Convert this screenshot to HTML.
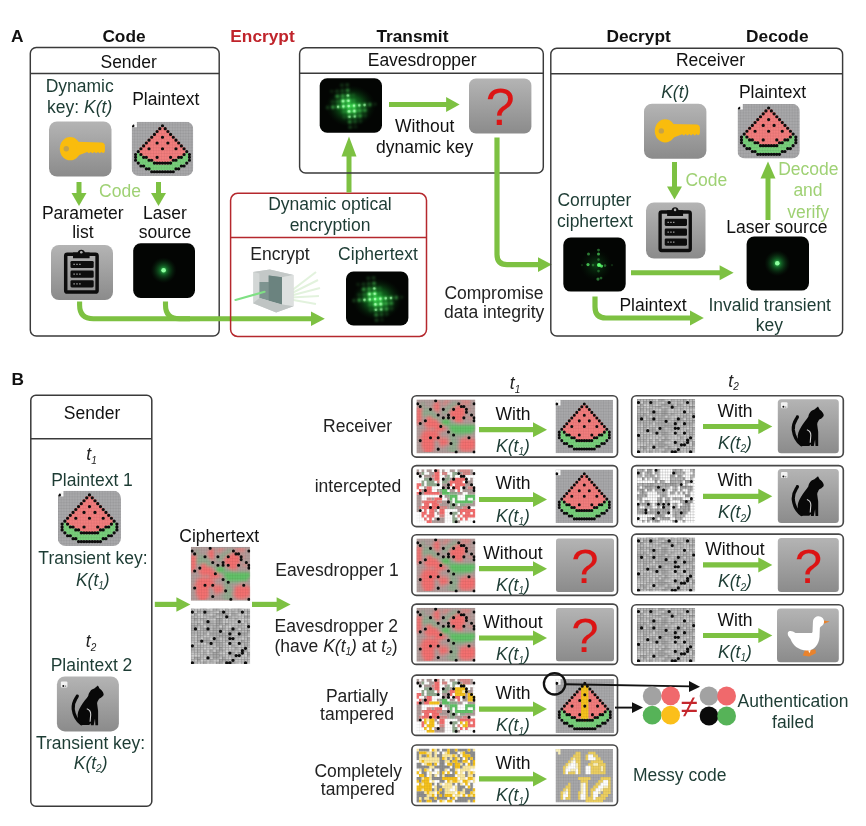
<!DOCTYPE html>
<html lang="en"><head><meta charset="utf-8"><title>Dynamic optical encryption</title>
<style>
html,body{margin:0;padding:0;background:#fff}
body{width:866px;height:826px;overflow:hidden}
svg{display:block;opacity:.999;filter:blur(.4px)}
text{font-family:"Liberation Sans",Arial,sans-serif}
</style></head><body>
<svg width="866" height="826" viewBox="0 0 866 826" font-size="17.5">
<defs>
<linearGradient id="gg" x1="0" y1="0" x2="0" y2="1"><stop offset="0" stop-color="#b4b4b4"/><stop offset="1" stop-color="#8b8b8b"/></linearGradient>
<radialGradient id="glow"><stop offset="0" stop-color="#35e05a" stop-opacity=".95"/><stop offset=".35" stop-color="#1c9a3a" stop-opacity=".55"/><stop offset="1" stop-color="#0a3a14" stop-opacity="0"/></radialGradient>
<radialGradient id="glow2"><stop offset="0" stop-color="#22c83c" stop-opacity=".85"/><stop offset=".5" stop-color="#138a26" stop-opacity=".5"/><stop offset="1" stop-color="#062a0c" stop-opacity="0"/></radialGradient>
<radialGradient id="glow3"><stop offset="0" stop-color="#168a2a" stop-opacity=".45"/><stop offset="1" stop-color="#062a0c" stop-opacity="0"/></radialGradient>
<filter id="b1" x="-5%" y="-5%" width="110%" height="110%"><feGaussianBlur stdDeviation="0.45"/></filter>
<filter id="bc" x="0" y="0" width="100%" height="100%"><feGaussianBlur stdDeviation="0.55"/></filter>
<filter id="b3" x="-50%" y="-50%" width="200%" height="200%"><feGaussianBlur stdDeviation="0.85"/></filter>
<filter id="b2" x="-50%" y="-50%" width="200%" height="200%"><feGaussianBlur stdDeviation="0.7"/></filter>
<pattern id="grid2" width="1" height="1" patternUnits="userSpaceOnUse"><path d="M0 0H1M0 0V1" stroke="#000" stroke-opacity=".3" stroke-width=".3" fill="none"/></pattern>
<pattern id="grid" width="1" height="1" patternUnits="userSpaceOnUse"><path d="M0 0H1M0 0V1" stroke="#000" stroke-opacity=".16" stroke-width=".22" fill="none"/></pattern>
<symbol id="wm" viewBox="0 0 23 19" preserveAspectRatio="none"><rect width="23" height="19" fill="#a8a8aa"/><g stroke-width="1.04" fill="none"><path stroke="#ffffff" d="M0 0.5h2M0 1.5h2"/><path stroke="#f37d7d" d="M10 2.5h3M9 3.5h5M8 4.5h7M7 5.5h9M6 6.5h11M5 7.5h13M4 8.5h15M3 9.5h17M3 10.5h17M3 11.5h17M5 12.5h13M7 13.5h9M9 14.5h5"/><path stroke="#78d07b" d="M2 11.5h1M20 11.5h1M2 12.5h3M18 12.5h3M2 13.5h5M16 13.5h5M3 14.5h6M14 14.5h6M4 15.5h15M6 16.5h11"/></g><rect width="23" height="19" fill="url(#grid)"/><path fill="#0c0c0c" d="M-0.1 1.5a0.6 0.54 0 1 0 1.2 0a0.6 0.54 0 1 0 -1.2 0M10.9 1.5a0.6 0.54 0 1 0 1.2 0a0.6 0.54 0 1 0 -1.2 0M9.9 2.5a0.6 0.54 0 1 0 1.2 0a0.6 0.54 0 1 0 -1.2 0M11.9 2.5a0.6 0.54 0 1 0 1.2 0a0.6 0.54 0 1 0 -1.2 0M8.9 3.5a0.6 0.54 0 1 0 1.2 0a0.6 0.54 0 1 0 -1.2 0M12.9 3.5a0.6 0.54 0 1 0 1.2 0a0.6 0.54 0 1 0 -1.2 0M7.9 4.5a0.6 0.54 0 1 0 1.2 0a0.6 0.54 0 1 0 -1.2 0M13.9 4.5a0.6 0.54 0 1 0 1.2 0a0.6 0.54 0 1 0 -1.2 0M6.9 5.5a0.6 0.54 0 1 0 1.2 0a0.6 0.54 0 1 0 -1.2 0M10.9 5.5a0.6 0.54 0 1 0 1.2 0a0.6 0.54 0 1 0 -1.2 0M14.9 5.5a0.6 0.54 0 1 0 1.2 0a0.6 0.54 0 1 0 -1.2 0M5.9 6.5a0.6 0.54 0 1 0 1.2 0a0.6 0.54 0 1 0 -1.2 0M15.9 6.5a0.6 0.54 0 1 0 1.2 0a0.6 0.54 0 1 0 -1.2 0M4.9 7.5a0.6 0.54 0 1 0 1.2 0a0.6 0.54 0 1 0 -1.2 0M8.9 7.5a0.6 0.54 0 1 0 1.2 0a0.6 0.54 0 1 0 -1.2 0M12.9 7.5a0.6 0.54 0 1 0 1.2 0a0.6 0.54 0 1 0 -1.2 0M16.9 7.5a0.6 0.54 0 1 0 1.2 0a0.6 0.54 0 1 0 -1.2 0M3.9 8.5a0.6 0.54 0 1 0 1.2 0a0.6 0.54 0 1 0 -1.2 0M17.9 8.5a0.6 0.54 0 1 0 1.2 0a0.6 0.54 0 1 0 -1.2 0M2.9 9.5a0.6 0.54 0 1 0 1.2 0a0.6 0.54 0 1 0 -1.2 0M5.9 9.5a0.6 0.54 0 1 0 1.2 0a0.6 0.54 0 1 0 -1.2 0M10.9 9.5a0.6 0.54 0 1 0 1.2 0a0.6 0.54 0 1 0 -1.2 0M15.9 9.5a0.6 0.54 0 1 0 1.2 0a0.6 0.54 0 1 0 -1.2 0M18.9 9.5a0.6 0.54 0 1 0 1.2 0a0.6 0.54 0 1 0 -1.2 0M1.9 10.5a0.6 0.54 0 1 0 1.2 0a0.6 0.54 0 1 0 -1.2 0M19.9 10.5a0.6 0.54 0 1 0 1.2 0a0.6 0.54 0 1 0 -1.2 0M0.9 11.5a0.6 0.54 0 1 0 1.2 0a0.6 0.54 0 1 0 -1.2 0M2.9 11.5a0.6 0.54 0 1 0 1.2 0a0.6 0.54 0 1 0 -1.2 0M18.9 11.5a0.6 0.54 0 1 0 1.2 0a0.6 0.54 0 1 0 -1.2 0M20.9 11.5a0.6 0.54 0 1 0 1.2 0a0.6 0.54 0 1 0 -1.2 0M0.9 12.5a0.6 0.54 0 1 0 1.2 0a0.6 0.54 0 1 0 -1.2 0M3.9 12.5a0.6 0.54 0 1 0 1.2 0a0.6 0.54 0 1 0 -1.2 0M4.9 12.5a0.6 0.54 0 1 0 1.2 0a0.6 0.54 0 1 0 -1.2 0M8.9 12.5a0.6 0.54 0 1 0 1.2 0a0.6 0.54 0 1 0 -1.2 0M13.9 12.5a0.6 0.54 0 1 0 1.2 0a0.6 0.54 0 1 0 -1.2 0M16.9 12.5a0.6 0.54 0 1 0 1.2 0a0.6 0.54 0 1 0 -1.2 0M17.9 12.5a0.6 0.54 0 1 0 1.2 0a0.6 0.54 0 1 0 -1.2 0M20.9 12.5a0.6 0.54 0 1 0 1.2 0a0.6 0.54 0 1 0 -1.2 0M0.9 13.5a0.6 0.54 0 1 0 1.2 0a0.6 0.54 0 1 0 -1.2 0M5.9 13.5a0.6 0.54 0 1 0 1.2 0a0.6 0.54 0 1 0 -1.2 0M6.9 13.5a0.6 0.54 0 1 0 1.2 0a0.6 0.54 0 1 0 -1.2 0M14.9 13.5a0.6 0.54 0 1 0 1.2 0a0.6 0.54 0 1 0 -1.2 0M15.9 13.5a0.6 0.54 0 1 0 1.2 0a0.6 0.54 0 1 0 -1.2 0M20.9 13.5a0.6 0.54 0 1 0 1.2 0a0.6 0.54 0 1 0 -1.2 0M1.9 14.5a0.6 0.54 0 1 0 1.2 0a0.6 0.54 0 1 0 -1.2 0M7.9 14.5a0.6 0.54 0 1 0 1.2 0a0.6 0.54 0 1 0 -1.2 0M8.9 14.5a0.6 0.54 0 1 0 1.2 0a0.6 0.54 0 1 0 -1.2 0M9.9 14.5a0.6 0.54 0 1 0 1.2 0a0.6 0.54 0 1 0 -1.2 0M10.9 14.5a0.6 0.54 0 1 0 1.2 0a0.6 0.54 0 1 0 -1.2 0M11.9 14.5a0.6 0.54 0 1 0 1.2 0a0.6 0.54 0 1 0 -1.2 0M12.9 14.5a0.6 0.54 0 1 0 1.2 0a0.6 0.54 0 1 0 -1.2 0M13.9 14.5a0.6 0.54 0 1 0 1.2 0a0.6 0.54 0 1 0 -1.2 0M19.9 14.5a0.6 0.54 0 1 0 1.2 0a0.6 0.54 0 1 0 -1.2 0M2.9 15.5a0.6 0.54 0 1 0 1.2 0a0.6 0.54 0 1 0 -1.2 0M3.9 15.5a0.6 0.54 0 1 0 1.2 0a0.6 0.54 0 1 0 -1.2 0M17.9 15.5a0.6 0.54 0 1 0 1.2 0a0.6 0.54 0 1 0 -1.2 0M18.9 15.5a0.6 0.54 0 1 0 1.2 0a0.6 0.54 0 1 0 -1.2 0M4.9 16.5a0.6 0.54 0 1 0 1.2 0a0.6 0.54 0 1 0 -1.2 0M5.9 16.5a0.6 0.54 0 1 0 1.2 0a0.6 0.54 0 1 0 -1.2 0M15.9 16.5a0.6 0.54 0 1 0 1.2 0a0.6 0.54 0 1 0 -1.2 0M16.9 16.5a0.6 0.54 0 1 0 1.2 0a0.6 0.54 0 1 0 -1.2 0M6.9 17.5a0.6 0.54 0 1 0 1.2 0a0.6 0.54 0 1 0 -1.2 0M7.9 17.5a0.6 0.54 0 1 0 1.2 0a0.6 0.54 0 1 0 -1.2 0M8.9 17.5a0.6 0.54 0 1 0 1.2 0a0.6 0.54 0 1 0 -1.2 0M9.9 17.5a0.6 0.54 0 1 0 1.2 0a0.6 0.54 0 1 0 -1.2 0M10.9 17.5a0.6 0.54 0 1 0 1.2 0a0.6 0.54 0 1 0 -1.2 0M11.9 17.5a0.6 0.54 0 1 0 1.2 0a0.6 0.54 0 1 0 -1.2 0M12.9 17.5a0.6 0.54 0 1 0 1.2 0a0.6 0.54 0 1 0 -1.2 0M13.9 17.5a0.6 0.54 0 1 0 1.2 0a0.6 0.54 0 1 0 -1.2 0M14.9 17.5a0.6 0.54 0 1 0 1.2 0a0.6 0.54 0 1 0 -1.2 0"/></symbol>
<symbol id="wmt" viewBox="0 0 23 19" preserveAspectRatio="none"><rect width="23" height="19" fill="#a8a8aa"/><g stroke-width="1.04" fill="none"><path stroke="#ffffff" d="M0 0.5h2M0 1.5h2"/><path stroke="#f6c21c" d="M10 2.5h3M10 3.5h3M10 4.5h3M10 5.5h3M10 6.5h3M10 7.5h3M10 8.5h3M10 9.5h3M10 10.5h3M10 11.5h3M10 12.5h3M10 13.5h3M11 14.5h1"/><path stroke="#f37d7d" d="M8 4.5h2M13 4.5h2M7 5.5h3M13 5.5h3M6 6.5h4M13 6.5h4M5 7.5h5M13 7.5h5M4 8.5h6M13 8.5h6M3 9.5h7M13 9.5h7M3 10.5h7M13 10.5h7M3 11.5h7M13 11.5h7M5 12.5h5M13 12.5h5M7 13.5h3M13 13.5h3"/><path stroke="#78d07b" d="M2 11.5h1M20 11.5h1M2 12.5h3M18 12.5h3M2 13.5h5M16 13.5h5M3 14.5h8M12 14.5h8M4 15.5h15M6 16.5h11"/></g><rect width="23" height="19" fill="url(#grid)"/><path fill="#0c0c0c" d="M-0.1 1.5a0.6 0.54 0 1 0 1.2 0a0.6 0.54 0 1 0 -1.2 0M10.9 1.5a0.6 0.54 0 1 0 1.2 0a0.6 0.54 0 1 0 -1.2 0M9.9 2.5a0.6 0.54 0 1 0 1.2 0a0.6 0.54 0 1 0 -1.2 0M11.9 2.5a0.6 0.54 0 1 0 1.2 0a0.6 0.54 0 1 0 -1.2 0M8.9 3.5a0.6 0.54 0 1 0 1.2 0a0.6 0.54 0 1 0 -1.2 0M12.9 3.5a0.6 0.54 0 1 0 1.2 0a0.6 0.54 0 1 0 -1.2 0M7.9 4.5a0.6 0.54 0 1 0 1.2 0a0.6 0.54 0 1 0 -1.2 0M13.9 4.5a0.6 0.54 0 1 0 1.2 0a0.6 0.54 0 1 0 -1.2 0M6.9 5.5a0.6 0.54 0 1 0 1.2 0a0.6 0.54 0 1 0 -1.2 0M10.9 5.5a0.6 0.54 0 1 0 1.2 0a0.6 0.54 0 1 0 -1.2 0M14.9 5.5a0.6 0.54 0 1 0 1.2 0a0.6 0.54 0 1 0 -1.2 0M5.9 6.5a0.6 0.54 0 1 0 1.2 0a0.6 0.54 0 1 0 -1.2 0M15.9 6.5a0.6 0.54 0 1 0 1.2 0a0.6 0.54 0 1 0 -1.2 0M4.9 7.5a0.6 0.54 0 1 0 1.2 0a0.6 0.54 0 1 0 -1.2 0M8.9 7.5a0.6 0.54 0 1 0 1.2 0a0.6 0.54 0 1 0 -1.2 0M12.9 7.5a0.6 0.54 0 1 0 1.2 0a0.6 0.54 0 1 0 -1.2 0M16.9 7.5a0.6 0.54 0 1 0 1.2 0a0.6 0.54 0 1 0 -1.2 0M3.9 8.5a0.6 0.54 0 1 0 1.2 0a0.6 0.54 0 1 0 -1.2 0M17.9 8.5a0.6 0.54 0 1 0 1.2 0a0.6 0.54 0 1 0 -1.2 0M2.9 9.5a0.6 0.54 0 1 0 1.2 0a0.6 0.54 0 1 0 -1.2 0M5.9 9.5a0.6 0.54 0 1 0 1.2 0a0.6 0.54 0 1 0 -1.2 0M10.9 9.5a0.6 0.54 0 1 0 1.2 0a0.6 0.54 0 1 0 -1.2 0M15.9 9.5a0.6 0.54 0 1 0 1.2 0a0.6 0.54 0 1 0 -1.2 0M18.9 9.5a0.6 0.54 0 1 0 1.2 0a0.6 0.54 0 1 0 -1.2 0M1.9 10.5a0.6 0.54 0 1 0 1.2 0a0.6 0.54 0 1 0 -1.2 0M19.9 10.5a0.6 0.54 0 1 0 1.2 0a0.6 0.54 0 1 0 -1.2 0M0.9 11.5a0.6 0.54 0 1 0 1.2 0a0.6 0.54 0 1 0 -1.2 0M2.9 11.5a0.6 0.54 0 1 0 1.2 0a0.6 0.54 0 1 0 -1.2 0M18.9 11.5a0.6 0.54 0 1 0 1.2 0a0.6 0.54 0 1 0 -1.2 0M20.9 11.5a0.6 0.54 0 1 0 1.2 0a0.6 0.54 0 1 0 -1.2 0M0.9 12.5a0.6 0.54 0 1 0 1.2 0a0.6 0.54 0 1 0 -1.2 0M3.9 12.5a0.6 0.54 0 1 0 1.2 0a0.6 0.54 0 1 0 -1.2 0M4.9 12.5a0.6 0.54 0 1 0 1.2 0a0.6 0.54 0 1 0 -1.2 0M8.9 12.5a0.6 0.54 0 1 0 1.2 0a0.6 0.54 0 1 0 -1.2 0M13.9 12.5a0.6 0.54 0 1 0 1.2 0a0.6 0.54 0 1 0 -1.2 0M16.9 12.5a0.6 0.54 0 1 0 1.2 0a0.6 0.54 0 1 0 -1.2 0M17.9 12.5a0.6 0.54 0 1 0 1.2 0a0.6 0.54 0 1 0 -1.2 0M20.9 12.5a0.6 0.54 0 1 0 1.2 0a0.6 0.54 0 1 0 -1.2 0M0.9 13.5a0.6 0.54 0 1 0 1.2 0a0.6 0.54 0 1 0 -1.2 0M5.9 13.5a0.6 0.54 0 1 0 1.2 0a0.6 0.54 0 1 0 -1.2 0M6.9 13.5a0.6 0.54 0 1 0 1.2 0a0.6 0.54 0 1 0 -1.2 0M14.9 13.5a0.6 0.54 0 1 0 1.2 0a0.6 0.54 0 1 0 -1.2 0M15.9 13.5a0.6 0.54 0 1 0 1.2 0a0.6 0.54 0 1 0 -1.2 0M20.9 13.5a0.6 0.54 0 1 0 1.2 0a0.6 0.54 0 1 0 -1.2 0M1.9 14.5a0.6 0.54 0 1 0 1.2 0a0.6 0.54 0 1 0 -1.2 0M7.9 14.5a0.6 0.54 0 1 0 1.2 0a0.6 0.54 0 1 0 -1.2 0M8.9 14.5a0.6 0.54 0 1 0 1.2 0a0.6 0.54 0 1 0 -1.2 0M9.9 14.5a0.6 0.54 0 1 0 1.2 0a0.6 0.54 0 1 0 -1.2 0M10.9 14.5a0.6 0.54 0 1 0 1.2 0a0.6 0.54 0 1 0 -1.2 0M11.9 14.5a0.6 0.54 0 1 0 1.2 0a0.6 0.54 0 1 0 -1.2 0M12.9 14.5a0.6 0.54 0 1 0 1.2 0a0.6 0.54 0 1 0 -1.2 0M13.9 14.5a0.6 0.54 0 1 0 1.2 0a0.6 0.54 0 1 0 -1.2 0M19.9 14.5a0.6 0.54 0 1 0 1.2 0a0.6 0.54 0 1 0 -1.2 0M2.9 15.5a0.6 0.54 0 1 0 1.2 0a0.6 0.54 0 1 0 -1.2 0M3.9 15.5a0.6 0.54 0 1 0 1.2 0a0.6 0.54 0 1 0 -1.2 0M17.9 15.5a0.6 0.54 0 1 0 1.2 0a0.6 0.54 0 1 0 -1.2 0M18.9 15.5a0.6 0.54 0 1 0 1.2 0a0.6 0.54 0 1 0 -1.2 0M4.9 16.5a0.6 0.54 0 1 0 1.2 0a0.6 0.54 0 1 0 -1.2 0M5.9 16.5a0.6 0.54 0 1 0 1.2 0a0.6 0.54 0 1 0 -1.2 0M15.9 16.5a0.6 0.54 0 1 0 1.2 0a0.6 0.54 0 1 0 -1.2 0M16.9 16.5a0.6 0.54 0 1 0 1.2 0a0.6 0.54 0 1 0 -1.2 0M6.9 17.5a0.6 0.54 0 1 0 1.2 0a0.6 0.54 0 1 0 -1.2 0M7.9 17.5a0.6 0.54 0 1 0 1.2 0a0.6 0.54 0 1 0 -1.2 0M8.9 17.5a0.6 0.54 0 1 0 1.2 0a0.6 0.54 0 1 0 -1.2 0M9.9 17.5a0.6 0.54 0 1 0 1.2 0a0.6 0.54 0 1 0 -1.2 0M10.9 17.5a0.6 0.54 0 1 0 1.2 0a0.6 0.54 0 1 0 -1.2 0M11.9 17.5a0.6 0.54 0 1 0 1.2 0a0.6 0.54 0 1 0 -1.2 0M12.9 17.5a0.6 0.54 0 1 0 1.2 0a0.6 0.54 0 1 0 -1.2 0M13.9 17.5a0.6 0.54 0 1 0 1.2 0a0.6 0.54 0 1 0 -1.2 0M14.9 17.5a0.6 0.54 0 1 0 1.2 0a0.6 0.54 0 1 0 -1.2 0"/></symbol>
<symbol id="ci" viewBox="0 0 23 19" preserveAspectRatio="none"><rect width="23" height="19" fill="#b09d9b"/><g stroke-width="1.04" fill="none" filter="url(#bc)"><path stroke="#d98a88" d="M8 0.5h1M11 0.5h2M17 0.5h4M10 1.5h2M18 1.5h3M6 2.5h1M15 2.5h1M20 3.5h1M8 4.5h1M20 6.5h2M3 9.5h1M10 9.5h1M4 10.5h2M11 10.5h1M2 11.5h1M8 11.5h2M1 13.5h1M9 13.5h3M18 13.5h2M21 13.5h1M8 14.5h1M12 14.5h1M12 15.5h1M9 16.5h2M16 16.5h1M2 17.5h1M22 17.5h1M18 18.5h3"/><path stroke="#93ab90" d="M2 1.5h1M14 1.5h2M2 2.5h1M12 2.5h3M3 3.5h3M11 3.5h2M2 4.5h5M10 4.5h2M2 5.5h6M6 6.5h3M9 7.5h1M13 8.5h3M12 9.5h1M13 11.5h1M13 12.5h6M13 13.5h2M13 14.5h3M13 15.5h3M13 16.5h3M12 17.5h4M13 18.5h3"/><path stroke="#f47070" d="M7 1.5h2M7 2.5h2M16 2.5h2M0 3.5h2M7 3.5h2M14 3.5h5M0 4.5h2M13 4.5h6M0 5.5h2M13 5.5h6M0 6.5h2M4 6.5h2M14 6.5h4M0 7.5h2M4 7.5h4M15 7.5h3M0 8.5h1M3 8.5h6M4 9.5h6M7 10.5h4M3 11.5h5M2 12.5h7M2 13.5h7M2 14.5h5M9 14.5h3M17 14.5h6M2 15.5h5M9 15.5h3M17 15.5h6M2 16.5h5M17 16.5h6M3 17.5h4M17 17.5h5M3 18.5h3"/><path stroke="#62c268" d="M10 7.5h3M10 8.5h3M13 9.5h10M13 10.5h10M14 11.5h8"/></g><rect width="23" height="19" fill="url(#grid)"/><path fill="#0c0c0c" d="M6.9 0.5a0.6 0.54 0 1 0 1.2 0a0.6 0.54 0 1 0 -1.2 0M-0.1 1.5a0.6 0.54 0 1 0 1.2 0a0.6 0.54 0 1 0 -1.2 0M15.9 1.5a0.6 0.54 0 1 0 1.2 0a0.6 0.54 0 1 0 -1.2 0M21.9 1.5a0.6 0.54 0 1 0 1.2 0a0.6 0.54 0 1 0 -1.2 0M0.9 2.5a0.6 0.54 0 1 0 1.2 0a0.6 0.54 0 1 0 -1.2 0M16.9 2.5a0.6 0.54 0 1 0 1.2 0a0.6 0.54 0 1 0 -1.2 0M17.9 2.5a0.6 0.54 0 1 0 1.2 0a0.6 0.54 0 1 0 -1.2 0M4.9 3.5a0.6 0.54 0 1 0 1.2 0a0.6 0.54 0 1 0 -1.2 0M9.9 3.5a0.6 0.54 0 1 0 1.2 0a0.6 0.54 0 1 0 -1.2 0M13.9 3.5a0.6 0.54 0 1 0 1.2 0a0.6 0.54 0 1 0 -1.2 0M18.9 3.5a0.6 0.54 0 1 0 1.2 0a0.6 0.54 0 1 0 -1.2 0M18.9 4.5a0.6 0.54 0 1 0 1.2 0a0.6 0.54 0 1 0 -1.2 0M7.9 5.5a0.6 0.54 0 1 0 1.2 0a0.6 0.54 0 1 0 -1.2 0M11.9 5.5a0.6 0.54 0 1 0 1.2 0a0.6 0.54 0 1 0 -1.2 0M20.9 5.5a0.6 0.54 0 1 0 1.2 0a0.6 0.54 0 1 0 -1.2 0M9.9 6.5a0.6 0.54 0 1 0 1.2 0a0.6 0.54 0 1 0 -1.2 0M11.9 6.5a0.6 0.54 0 1 0 1.2 0a0.6 0.54 0 1 0 -1.2 0M13.9 6.5a0.6 0.54 0 1 0 1.2 0a0.6 0.54 0 1 0 -1.2 0M17.9 6.5a0.6 0.54 0 1 0 1.2 0a0.6 0.54 0 1 0 -1.2 0M21.9 6.5a0.6 0.54 0 1 0 1.2 0a0.6 0.54 0 1 0 -1.2 0M2.9 7.5a0.6 0.54 0 1 0 1.2 0a0.6 0.54 0 1 0 -1.2 0M21.9 7.5a0.6 0.54 0 1 0 1.2 0a0.6 0.54 0 1 0 -1.2 0M0.9 8.5a0.6 0.54 0 1 0 1.2 0a0.6 0.54 0 1 0 -1.2 0M8.9 9.5a0.6 0.54 0 1 0 1.2 0a0.6 0.54 0 1 0 -1.2 0M11.9 11.5a0.6 0.54 0 1 0 1.2 0a0.6 0.54 0 1 0 -1.2 0M13.9 12.5a0.6 0.54 0 1 0 1.2 0a0.6 0.54 0 1 0 -1.2 0M4.9 13.5a0.6 0.54 0 1 0 1.2 0a0.6 0.54 0 1 0 -1.2 0M7.9 13.5a0.6 0.54 0 1 0 1.2 0a0.6 0.54 0 1 0 -1.2 0M19.9 13.5a0.6 0.54 0 1 0 1.2 0a0.6 0.54 0 1 0 -1.2 0M0.9 14.5a0.6 0.54 0 1 0 1.2 0a0.6 0.54 0 1 0 -1.2 0M12.9 15.5a0.6 0.54 0 1 0 1.2 0a0.6 0.54 0 1 0 -1.2 0M7.9 17.5a0.6 0.54 0 1 0 1.2 0a0.6 0.54 0 1 0 -1.2 0M14.9 18.5a0.6 0.54 0 1 0 1.2 0a0.6 0.54 0 1 0 -1.2 0M21.9 18.5a0.6 0.54 0 1 0 1.2 0a0.6 0.54 0 1 0 -1.2 0"/></symbol>
<symbol id="ci2" viewBox="0 0 23 19" preserveAspectRatio="none"><rect width="23" height="19" fill="#ffffff"/><g stroke-width="1.04" fill="none"><path stroke="#b09d9b" d="M0 0.5h1M2 0.5h1M4 0.5h2M10 0.5h1M13 0.5h2M16 0.5h1M21 0.5h1M0 1.5h2M5 1.5h2M17 1.5h1M21 1.5h1M3 2.5h3M11 2.5h1M6 3.5h1M13 3.5h1M21 3.5h1M12 4.5h1M19 4.5h3M10 5.5h3M19 5.5h3M3 6.5h1M10 6.5h3M18 6.5h2M22 6.5h1M2 7.5h1M8 7.5h1M13 7.5h2M18 7.5h5M1 8.5h2M9 8.5h1M16 8.5h2M20 8.5h3M0 9.5h2M11 9.5h1M0 10.5h2M6 10.5h1M12 10.5h1M0 11.5h2M10 11.5h3M22 11.5h1M0 12.5h2M9 12.5h4M19 12.5h4M0 13.5h1M12 13.5h1M15 13.5h3M20 13.5h1M0 14.5h1M7 14.5h1M16 14.5h1M8 15.5h1M7 17.5h4M6 18.5h5M16 18.5h1"/><path stroke="#f47070" d="M7 0.5h1M7 1.5h2M7 2.5h2M17 2.5h1M7 3.5h2M14 3.5h5M13 4.5h5M0 5.5h2M13 5.5h1M15 5.5h4M0 6.5h1M4 6.5h2M14 6.5h3M1 7.5h1M3 7.5h3M16 7.5h1M0 8.5h1M3 8.5h6M9 9.5h1M7 10.5h3M3 11.5h5M3 12.5h2M6 12.5h3M2 13.5h7M3 14.5h1M5 14.5h2M9 14.5h2M17 14.5h6M2 15.5h2M5 15.5h2M9 15.5h2M17 15.5h1M19 15.5h2M22 15.5h1M2 16.5h1M4 16.5h3M18 16.5h5M3 17.5h1M5 17.5h1M17 17.5h1M19 17.5h1M4 18.5h2"/><path stroke="#d98a88" d="M8 0.5h1M17 0.5h4M10 1.5h2M18 1.5h3M6 2.5h1M18 2.5h1M8 4.5h1M20 6.5h2M4 10.5h2M2 11.5h1M8 11.5h2M1 13.5h1M9 13.5h3M18 13.5h2M9 16.5h2M16 16.5h1"/><path stroke="#93ab90" d="M2 1.5h1M14 1.5h2M12 2.5h1M14 2.5h1M3 3.5h3M11 3.5h2M2 4.5h1M4 4.5h3M10 4.5h2M2 5.5h1M4 5.5h4M9 7.5h1M13 8.5h3M12 9.5h1M13 11.5h1M13 12.5h3M17 12.5h2M13 13.5h2M14 15.5h2M14 16.5h1M14 17.5h2M14 18.5h2"/><path stroke="#62c268" d="M10 7.5h2M10 8.5h3M13 9.5h3M19 9.5h4M13 10.5h1M15 10.5h1M19 10.5h1M22 10.5h1M15 11.5h7"/></g><rect width="23" height="19" fill="url(#grid)"/><path fill="#0c0c0c" d="M6.9 0.5a0.6 0.54 0 1 0 1.2 0a0.6 0.54 0 1 0 -1.2 0M-0.1 1.5a0.6 0.54 0 1 0 1.2 0a0.6 0.54 0 1 0 -1.2 0M15.9 1.5a0.6 0.54 0 1 0 1.2 0a0.6 0.54 0 1 0 -1.2 0M21.9 1.5a0.6 0.54 0 1 0 1.2 0a0.6 0.54 0 1 0 -1.2 0M0.9 2.5a0.6 0.54 0 1 0 1.2 0a0.6 0.54 0 1 0 -1.2 0M16.9 2.5a0.6 0.54 0 1 0 1.2 0a0.6 0.54 0 1 0 -1.2 0M17.9 2.5a0.6 0.54 0 1 0 1.2 0a0.6 0.54 0 1 0 -1.2 0M4.9 3.5a0.6 0.54 0 1 0 1.2 0a0.6 0.54 0 1 0 -1.2 0M9.9 3.5a0.6 0.54 0 1 0 1.2 0a0.6 0.54 0 1 0 -1.2 0M13.9 3.5a0.6 0.54 0 1 0 1.2 0a0.6 0.54 0 1 0 -1.2 0M18.9 3.5a0.6 0.54 0 1 0 1.2 0a0.6 0.54 0 1 0 -1.2 0M18.9 4.5a0.6 0.54 0 1 0 1.2 0a0.6 0.54 0 1 0 -1.2 0M7.9 5.5a0.6 0.54 0 1 0 1.2 0a0.6 0.54 0 1 0 -1.2 0M11.9 5.5a0.6 0.54 0 1 0 1.2 0a0.6 0.54 0 1 0 -1.2 0M20.9 5.5a0.6 0.54 0 1 0 1.2 0a0.6 0.54 0 1 0 -1.2 0M9.9 6.5a0.6 0.54 0 1 0 1.2 0a0.6 0.54 0 1 0 -1.2 0M11.9 6.5a0.6 0.54 0 1 0 1.2 0a0.6 0.54 0 1 0 -1.2 0M13.9 6.5a0.6 0.54 0 1 0 1.2 0a0.6 0.54 0 1 0 -1.2 0M17.9 6.5a0.6 0.54 0 1 0 1.2 0a0.6 0.54 0 1 0 -1.2 0M21.9 6.5a0.6 0.54 0 1 0 1.2 0a0.6 0.54 0 1 0 -1.2 0M2.9 7.5a0.6 0.54 0 1 0 1.2 0a0.6 0.54 0 1 0 -1.2 0M21.9 7.5a0.6 0.54 0 1 0 1.2 0a0.6 0.54 0 1 0 -1.2 0M0.9 8.5a0.6 0.54 0 1 0 1.2 0a0.6 0.54 0 1 0 -1.2 0M8.9 9.5a0.6 0.54 0 1 0 1.2 0a0.6 0.54 0 1 0 -1.2 0M11.9 11.5a0.6 0.54 0 1 0 1.2 0a0.6 0.54 0 1 0 -1.2 0M13.9 12.5a0.6 0.54 0 1 0 1.2 0a0.6 0.54 0 1 0 -1.2 0M4.9 13.5a0.6 0.54 0 1 0 1.2 0a0.6 0.54 0 1 0 -1.2 0M7.9 13.5a0.6 0.54 0 1 0 1.2 0a0.6 0.54 0 1 0 -1.2 0M19.9 13.5a0.6 0.54 0 1 0 1.2 0a0.6 0.54 0 1 0 -1.2 0M0.9 14.5a0.6 0.54 0 1 0 1.2 0a0.6 0.54 0 1 0 -1.2 0M12.9 15.5a0.6 0.54 0 1 0 1.2 0a0.6 0.54 0 1 0 -1.2 0M7.9 17.5a0.6 0.54 0 1 0 1.2 0a0.6 0.54 0 1 0 -1.2 0M14.9 18.5a0.6 0.54 0 1 0 1.2 0a0.6 0.54 0 1 0 -1.2 0M21.9 18.5a0.6 0.54 0 1 0 1.2 0a0.6 0.54 0 1 0 -1.2 0"/></symbol>
<symbol id="ci3" viewBox="0 0 23 19" preserveAspectRatio="none"><rect width="23" height="19" fill="#ffffff"/><g stroke-width="1.04" fill="none"><path stroke="#b09d9b" d="M0 0.5h1M2 0.5h1M4 0.5h2M10 0.5h1M13 0.5h2M16 0.5h1M21 0.5h1M0 1.5h2M5 1.5h2M17 1.5h1M21 1.5h1M3 2.5h3M11 2.5h1M6 3.5h1M13 3.5h1M21 3.5h1M12 4.5h1M20 4.5h2M10 5.5h3M19 5.5h1M3 6.5h1M10 6.5h3M18 6.5h2M2 7.5h1M8 7.5h1M13 7.5h2M18 7.5h2M22 7.5h1M1 8.5h2M9 8.5h1M16 8.5h2M20 8.5h3M0 9.5h2M11 9.5h1M0 10.5h2M6 10.5h1M12 10.5h1M0 11.5h2M10 11.5h3M22 11.5h1M0 12.5h2M9 12.5h4M19 12.5h4M0 13.5h1M12 13.5h1M15 13.5h3M20 13.5h1M0 14.5h1M7 14.5h1M16 14.5h1M8 15.5h1M7 17.5h4M7 18.5h4M16 18.5h1"/><path stroke="#f47070" d="M7 0.5h1M7 1.5h2M7 2.5h2M7 3.5h2M13 4.5h2M0 5.5h2M13 5.5h1M0 6.5h1M4 6.5h2M15 6.5h2M1 7.5h1M3 7.5h3M16 7.5h1M0 8.5h1M3 8.5h2M7 10.5h3M3 11.5h5M3 12.5h2M6 12.5h3M2 13.5h7M9 14.5h2M17 14.5h6M2 15.5h1M9 15.5h2M20 15.5h1M22 15.5h1M2 16.5h1M20 16.5h3M17 17.5h1M19 17.5h1"/><path stroke="#d98a88" d="M8 0.5h1M17 0.5h4M10 1.5h2M18 1.5h3M6 2.5h1M8 4.5h1M4 10.5h2M2 11.5h1M8 11.5h2M1 13.5h1M9 13.5h3M18 13.5h2M9 16.5h2M16 16.5h1"/><path stroke="#93ab90" d="M2 1.5h1M14 1.5h2M12 2.5h1M14 2.5h1M3 3.5h3M11 3.5h2M2 4.5h1M4 4.5h3M10 4.5h2M2 5.5h1M4 5.5h4M9 7.5h1M13 8.5h3M12 9.5h1M13 11.5h1M13 12.5h3M17 12.5h2M13 13.5h2M14 15.5h2M14 16.5h1M14 17.5h2M14 18.5h2"/><path stroke="#f6c21c" d="M17 2.5h2M15 3.5h4M15 4.5h3M19 4.5h1M15 5.5h4M20 5.5h2M20 6.5h3M20 7.5h2M5 8.5h4M3 14.5h1M5 14.5h2M3 15.5h1M5 15.5h2M17 15.5h1M19 15.5h1M4 16.5h3M18 16.5h2M3 17.5h1M5 17.5h1M4 18.5h3"/><path stroke="#fbe9a0" d="M18 4.5h1M4 14.5h1"/><path stroke="#62c268" d="M10 7.5h2M10 8.5h3M13 9.5h3M19 9.5h4M13 10.5h1M15 10.5h1M19 10.5h1M22 10.5h1M15 11.5h7"/></g><rect width="23" height="19" fill="url(#grid)"/><path fill="#0c0c0c" d="M6.9 0.5a0.6 0.54 0 1 0 1.2 0a0.6 0.54 0 1 0 -1.2 0M-0.1 1.5a0.6 0.54 0 1 0 1.2 0a0.6 0.54 0 1 0 -1.2 0M15.9 1.5a0.6 0.54 0 1 0 1.2 0a0.6 0.54 0 1 0 -1.2 0M21.9 1.5a0.6 0.54 0 1 0 1.2 0a0.6 0.54 0 1 0 -1.2 0M0.9 2.5a0.6 0.54 0 1 0 1.2 0a0.6 0.54 0 1 0 -1.2 0M16.9 2.5a0.6 0.54 0 1 0 1.2 0a0.6 0.54 0 1 0 -1.2 0M17.9 2.5a0.6 0.54 0 1 0 1.2 0a0.6 0.54 0 1 0 -1.2 0M4.9 3.5a0.6 0.54 0 1 0 1.2 0a0.6 0.54 0 1 0 -1.2 0M9.9 3.5a0.6 0.54 0 1 0 1.2 0a0.6 0.54 0 1 0 -1.2 0M13.9 3.5a0.6 0.54 0 1 0 1.2 0a0.6 0.54 0 1 0 -1.2 0M18.9 3.5a0.6 0.54 0 1 0 1.2 0a0.6 0.54 0 1 0 -1.2 0M18.9 4.5a0.6 0.54 0 1 0 1.2 0a0.6 0.54 0 1 0 -1.2 0M7.9 5.5a0.6 0.54 0 1 0 1.2 0a0.6 0.54 0 1 0 -1.2 0M11.9 5.5a0.6 0.54 0 1 0 1.2 0a0.6 0.54 0 1 0 -1.2 0M20.9 5.5a0.6 0.54 0 1 0 1.2 0a0.6 0.54 0 1 0 -1.2 0M9.9 6.5a0.6 0.54 0 1 0 1.2 0a0.6 0.54 0 1 0 -1.2 0M11.9 6.5a0.6 0.54 0 1 0 1.2 0a0.6 0.54 0 1 0 -1.2 0M13.9 6.5a0.6 0.54 0 1 0 1.2 0a0.6 0.54 0 1 0 -1.2 0M17.9 6.5a0.6 0.54 0 1 0 1.2 0a0.6 0.54 0 1 0 -1.2 0M21.9 6.5a0.6 0.54 0 1 0 1.2 0a0.6 0.54 0 1 0 -1.2 0M2.9 7.5a0.6 0.54 0 1 0 1.2 0a0.6 0.54 0 1 0 -1.2 0M21.9 7.5a0.6 0.54 0 1 0 1.2 0a0.6 0.54 0 1 0 -1.2 0M0.9 8.5a0.6 0.54 0 1 0 1.2 0a0.6 0.54 0 1 0 -1.2 0M8.9 9.5a0.6 0.54 0 1 0 1.2 0a0.6 0.54 0 1 0 -1.2 0M11.9 11.5a0.6 0.54 0 1 0 1.2 0a0.6 0.54 0 1 0 -1.2 0M13.9 12.5a0.6 0.54 0 1 0 1.2 0a0.6 0.54 0 1 0 -1.2 0M4.9 13.5a0.6 0.54 0 1 0 1.2 0a0.6 0.54 0 1 0 -1.2 0M7.9 13.5a0.6 0.54 0 1 0 1.2 0a0.6 0.54 0 1 0 -1.2 0M19.9 13.5a0.6 0.54 0 1 0 1.2 0a0.6 0.54 0 1 0 -1.2 0M0.9 14.5a0.6 0.54 0 1 0 1.2 0a0.6 0.54 0 1 0 -1.2 0M12.9 15.5a0.6 0.54 0 1 0 1.2 0a0.6 0.54 0 1 0 -1.2 0M7.9 17.5a0.6 0.54 0 1 0 1.2 0a0.6 0.54 0 1 0 -1.2 0M14.9 18.5a0.6 0.54 0 1 0 1.2 0a0.6 0.54 0 1 0 -1.2 0M21.9 18.5a0.6 0.54 0 1 0 1.2 0a0.6 0.54 0 1 0 -1.2 0"/></symbol>
<symbol id="ci4" viewBox="0 0 23 19" preserveAspectRatio="none"><rect width="23" height="19" fill="#ffffff"/><g stroke-width="1.04" fill="none"><path stroke="#fbe9a0" d="M0 0.5h1M7 0.5h1M22 0.5h1M4 1.5h2M7 1.5h1M11 1.5h1M17 1.5h1M1 2.5h1M5 2.5h1M7 2.5h1M10 2.5h4M15 2.5h1M1 3.5h8M11 3.5h1M13 3.5h1M16 3.5h1M1 4.5h1M3 4.5h6M11 4.5h2M3 5.5h1M17 5.5h1M5 6.5h2M18 6.5h5M1 7.5h1M4 7.5h1M11 7.5h1M15 7.5h1M17 7.5h4M5 8.5h1M8 8.5h1M17 8.5h1M20 8.5h1M22 8.5h1M5 9.5h1M7 9.5h1M10 9.5h1M16 9.5h3M20 9.5h2M2 10.5h1M5 10.5h1M17 10.5h2M22 10.5h1M6 11.5h1M13 11.5h1M16 11.5h1M20 11.5h1M22 11.5h1M2 12.5h1M9 12.5h1M11 12.5h3M17 12.5h1M7 13.5h1M10 13.5h4M15 13.5h1M2 14.5h1M7 14.5h1M11 14.5h2M15 14.5h1M18 14.5h1M3 15.5h1M5 15.5h2M11 15.5h4M17 15.5h2M22 15.5h1M4 16.5h2M15 16.5h2M21 16.5h1M1 17.5h1M3 17.5h2M10 18.5h1M20 18.5h1"/><path stroke="#8f8f8f" d="M1 0.5h4M8 0.5h1M10 0.5h2M13 0.5h2M16 0.5h4M21 0.5h1M0 1.5h1M6 1.5h1M9 1.5h1M13 1.5h3M19 1.5h4M0 2.5h1M2 2.5h2M6 2.5h1M8 2.5h2M16 2.5h1M21 2.5h2M0 3.5h1M9 3.5h1M12 3.5h1M14 3.5h1M17 3.5h1M20 3.5h1M22 3.5h1M9 4.5h2M13 4.5h1M16 4.5h2M21 4.5h1M0 5.5h2M6 5.5h1M9 5.5h2M14 5.5h1M18 5.5h1M21 5.5h1M0 6.5h5M7 6.5h6M14 6.5h1M17 6.5h1M2 7.5h1M6 7.5h1M9 7.5h2M13 7.5h2M2 8.5h2M9 8.5h1M14 8.5h1M19 8.5h1M3 9.5h1M6 9.5h1M9 9.5h1M11 9.5h4M19 9.5h1M22 9.5h1M0 10.5h2M6 10.5h4M1 11.5h1M9 11.5h2M6 12.5h1M8 12.5h1M14 12.5h1M16 12.5h1M21 12.5h1M8 13.5h2M16 13.5h3M21 13.5h1M6 14.5h1M8 14.5h1M10 14.5h1M16 14.5h2M19 14.5h3M0 15.5h3M9 15.5h2M19 15.5h2M0 16.5h4M8 16.5h1M10 16.5h1M0 17.5h1M2 17.5h1M5 17.5h2M8 17.5h4M13 17.5h1M16 17.5h7M0 18.5h1M2 18.5h2M6 18.5h2M15 18.5h5M21 18.5h1"/><path stroke="#f6c21c" d="M6 0.5h1M12 0.5h1M15 0.5h1M20 0.5h1M1 1.5h3M12 1.5h1M18 1.5h1M4 2.5h1M14 2.5h1M18 2.5h3M10 3.5h1M15 3.5h1M19 3.5h1M21 3.5h1M2 4.5h1M14 4.5h2M18 4.5h2M22 4.5h1M4 5.5h2M7 5.5h1M12 5.5h2M15 5.5h2M20 5.5h1M22 5.5h1M15 6.5h2M3 7.5h1M0 8.5h1M10 8.5h1M12 8.5h1M15 8.5h1M21 8.5h1M1 9.5h2M3 10.5h2M10 10.5h6M20 10.5h2M0 11.5h1M2 11.5h3M12 11.5h1M14 11.5h2M18 11.5h2M1 12.5h1M3 12.5h3M19 12.5h1M0 13.5h6M20 13.5h1M0 14.5h2M3 14.5h3M9 14.5h1M22 14.5h1M4 15.5h1M8 15.5h1M16 15.5h1M21 15.5h1M6 16.5h1M9 16.5h1M11 16.5h3M18 16.5h1M20 16.5h1M22 16.5h1M7 17.5h1M14 17.5h1M1 18.5h1M4 18.5h2M9 18.5h1M12 18.5h2M22 18.5h1"/></g><rect width="23" height="19" fill="url(#grid)"/></symbol>
<symbol id="ms" viewBox="0 0 23 19" preserveAspectRatio="none"><rect width="23" height="19" fill="#a8a8aa"/><g stroke-width="1.04" fill="none"><path stroke="#fbf1bd" d="M0 0.5h2M1 1.5h1M7 3.5h1M6 4.5h1M5 5.5h1M8 5.5h1M15 5.5h2M4 6.5h1M8 6.5h1M18 6.5h1M6 7.5h2M18 7.5h1M10 12.5h1M10 13.5h1M19 13.5h2M4 14.5h1M10 14.5h1M18 14.5h1M3 15.5h1M10 15.5h1M17 15.5h1"/><path stroke="#edd062" d="M8 1.5h2M13 1.5h3M7 2.5h3M12 2.5h1M15 2.5h2M6 3.5h1M8 3.5h2M12 3.5h1M16 3.5h2M5 4.5h1M8 4.5h2M14 4.5h5M4 5.5h1M9 5.5h1M13 5.5h2M17 5.5h3M3 6.5h1M9 6.5h1M14 6.5h4M19 6.5h1M3 7.5h1M9 7.5h1M14 7.5h4M19 7.5h1M3 8.5h1M5 8.5h3M9 8.5h1M14 8.5h6M9 10.5h5M18 10.5h4M10 11.5h3M17 11.5h2M21 11.5h1M5 12.5h1M12 12.5h1M16 12.5h2M21 12.5h1M4 13.5h2M12 13.5h1M15 13.5h2M21 13.5h1M3 14.5h1M5 14.5h1M12 14.5h1M14 14.5h2M19 14.5h3M2 15.5h1M5 15.5h1M9 15.5h1M12 15.5h1M14 15.5h1M19 15.5h3M2 16.5h1M5 16.5h1M9 16.5h1M12 16.5h1M14 16.5h1M18 16.5h3M2 17.5h1M4 17.5h2M9 17.5h1M12 17.5h3M16 17.5h4M12 18.5h7"/><path stroke="#ffffff" d="M13 2.5h2M13 3.5h3M7 4.5h1M6 5.5h2M5 6.5h3M12 6.5h2M4 7.5h2M8 7.5h1M12 7.5h2M4 8.5h1M8 8.5h1M12 8.5h2M19 11.5h2M11 12.5h1M18 12.5h3M11 13.5h1M17 13.5h2M11 14.5h1M16 14.5h2M4 15.5h1M11 15.5h1M15 15.5h2M3 16.5h2M10 16.5h2M15 16.5h2M3 17.5h1M10 17.5h2M15 17.5h1"/></g><rect width="23" height="19" fill="url(#grid)"/></symbol>
<symbol id="gc" viewBox="0 0 19 23" preserveAspectRatio="none"><rect width="19" height="23" fill="#bdbdbd"/><g stroke-width="1.04" fill="none"><path stroke="#bababa" d="M0 0.5h1M3 0.5h1M13 0.5h2M3 1.5h2M6 1.5h1M7 2.5h1M5 3.5h1M10 3.5h2M0 4.5h1M12 4.5h1M1 6.5h1M7 6.5h1M2 7.5h1M16 7.5h1M1 9.5h1M3 9.5h1M14 9.5h1M17 9.5h1M1 10.5h1M3 10.5h1M11 10.5h1M13 10.5h1M18 10.5h1M3 11.5h1M7 11.5h1M17 11.5h1M10 12.5h2M0 13.5h1M9 13.5h1M13 13.5h1M18 13.5h1M7 14.5h1M16 14.5h1M3 15.5h2M10 15.5h1M18 15.5h1M1 17.5h1M13 17.5h1M2 18.5h1M3 19.5h2M10 19.5h1M5 20.5h1M13 20.5h2M4 21.5h1M13 21.5h1M1 22.5h1M14 22.5h1"/><path stroke="#b0b0b0" d="M4 0.5h1M11 0.5h1M13 1.5h1M15 1.5h1M10 2.5h1M14 2.5h1M0 3.5h1M6 3.5h1M12 3.5h1M3 4.5h2M14 4.5h1M5 5.5h2M17 5.5h1M0 6.5h1M4 6.5h3M16 6.5h1M3 7.5h1M5 7.5h1M7 7.5h1M10 7.5h1M3 8.5h1M5 8.5h1M8 8.5h1M12 8.5h1M16 8.5h1M0 9.5h1M2 9.5h1M4 9.5h2M7 9.5h3M15 9.5h1M0 10.5h1M2 10.5h1M9 10.5h1M2 11.5h1M8 11.5h1M10 11.5h2M15 11.5h1M0 12.5h1M2 12.5h1M4 12.5h1M7 13.5h1M11 13.5h1M17 14.5h1M2 15.5h1M9 15.5h1M17 15.5h1M0 16.5h1M7 16.5h1M0 17.5h1M2 17.5h1M4 17.5h1M10 17.5h1M4 18.5h1M6 19.5h1M12 19.5h2M6 21.5h1M11 21.5h1M12 22.5h1"/><path stroke="#cfcfcf" d="M6 0.5h1M10 0.5h1M16 0.5h1M0 1.5h2M8 1.5h1M16 1.5h1M0 2.5h1M2 2.5h2M6 2.5h1M12 2.5h1M15 2.5h1M17 2.5h1M3 3.5h1M7 4.5h1M11 4.5h1M15 4.5h2M3 5.5h1M15 5.5h2M17 6.5h1M4 7.5h1M9 7.5h1M12 7.5h1M2 8.5h1M15 8.5h1M5 10.5h1M1 11.5h1M18 11.5h1M3 12.5h1M6 12.5h1M16 12.5h1M3 13.5h1M0 14.5h1M4 14.5h1M11 14.5h2M12 15.5h1M15 15.5h1M4 16.5h1M6 16.5h1M12 16.5h1M17 16.5h2M5 17.5h1M7 17.5h1M11 17.5h1M18 17.5h1M5 18.5h1M10 18.5h1M14 18.5h1M16 18.5h2M0 19.5h2M14 19.5h2M17 19.5h1M4 20.5h1M12 20.5h1M15 20.5h1M3 21.5h1M15 22.5h1M18 22.5h1"/><path stroke="#a8a8a8" d="M7 0.5h1M15 0.5h1M2 1.5h1M5 1.5h1M9 1.5h2M18 1.5h1M1 2.5h1M4 2.5h1M11 2.5h1M13 2.5h1M7 3.5h1M17 3.5h2M1 4.5h1M8 4.5h1M4 5.5h1M2 6.5h1M11 6.5h1M18 6.5h1M0 7.5h2M15 7.5h1M0 8.5h2M4 8.5h1M7 8.5h1M10 8.5h1M13 8.5h2M12 9.5h2M18 9.5h1M4 10.5h1M6 10.5h2M10 10.5h1M12 10.5h1M16 10.5h2M12 11.5h1M5 12.5h1M18 12.5h1M2 13.5h1M4 13.5h2M16 13.5h1M5 14.5h1M13 15.5h1M14 16.5h1M6 17.5h1M17 17.5h1M7 18.5h1M13 18.5h1M15 18.5h1M18 18.5h1M7 19.5h1M18 19.5h1M1 20.5h2M7 20.5h1M10 20.5h1M2 21.5h1M10 21.5h1M4 22.5h1M13 22.5h1"/><path stroke="#a6a6a6" d="M8 0.5h1M8 2.5h2M9 4.5h1M8 5.5h2M8 6.5h2M8 7.5h1M9 8.5h1M8 10.5h1M9 11.5h1M8 12.5h1M8 13.5h1M8 14.5h2M8 15.5h1M9 16.5h1M8 17.5h2M8 18.5h1M8 19.5h2M8 20.5h1M9 21.5h1M8 22.5h2"/><path stroke="#c6c6c6" d="M9 0.5h1M12 1.5h1M14 1.5h1M8 3.5h1M16 3.5h1M5 4.5h2M10 4.5h1M13 4.5h1M17 4.5h2M2 5.5h1M10 5.5h2M14 5.5h1M3 6.5h1M13 6.5h1M11 7.5h1M17 7.5h1M11 8.5h1M10 9.5h1M14 10.5h1M4 11.5h2M13 11.5h1M9 12.5h1M12 12.5h2M1 13.5h1M12 13.5h1M14 13.5h2M2 14.5h2M14 14.5h2M1 15.5h1M5 15.5h1M7 15.5h1M11 15.5h1M16 15.5h1M5 16.5h1M8 16.5h1M10 16.5h2M13 16.5h1M15 16.5h1M3 17.5h1M12 17.5h1M15 17.5h2M0 18.5h1M3 18.5h1M9 18.5h1M11 18.5h2M2 19.5h1M11 19.5h1M16 19.5h1M0 20.5h1M6 20.5h1M9 20.5h1M11 20.5h1M16 20.5h1M18 20.5h1M1 21.5h1M5 21.5h1M7 21.5h2M14 21.5h2M0 22.5h1M2 22.5h1M5 22.5h1M7 22.5h1M10 22.5h1"/></g><rect width="19" height="23" fill="url(#grid2)"/><path fill="#0c0c0c" d="M-0.03 1.5a0.53 0.68 0 1 0 1.06 0a0.53 0.68 0 1 0 -1.06 0M3.97 1.5a0.53 0.68 0 1 0 1.06 0a0.53 0.68 0 1 0 -1.06 0M9.97 1.5a0.53 0.68 0 1 0 1.06 0a0.53 0.68 0 1 0 -1.06 0M15.97 1.5a0.53 0.68 0 1 0 1.06 0a0.53 0.68 0 1 0 -1.06 0M10.97 3.5a0.53 0.68 0 1 0 1.06 0a0.53 0.68 0 1 0 -1.06 0M4.97 5.5a0.53 0.68 0 1 0 1.06 0a0.53 0.68 0 1 0 -1.06 0M14.97 5.5a0.53 0.68 0 1 0 1.06 0a0.53 0.68 0 1 0 -1.06 0M17.97 7.5a0.53 0.68 0 1 0 1.06 0a0.53 0.68 0 1 0 -1.06 0M0.97 8.5a0.53 0.68 0 1 0 1.06 0a0.53 0.68 0 1 0 -1.06 0M4.97 8.5a0.53 0.68 0 1 0 1.06 0a0.53 0.68 0 1 0 -1.06 0M12.97 8.5a0.53 0.68 0 1 0 1.06 0a0.53 0.68 0 1 0 -1.06 0M8.97 9.5a0.53 0.68 0 1 0 1.06 0a0.53 0.68 0 1 0 -1.06 0M11.97 10.5a0.53 0.68 0 1 0 1.06 0a0.53 0.68 0 1 0 -1.06 0M14.97 10.5a0.53 0.68 0 1 0 1.06 0a0.53 0.68 0 1 0 -1.06 0M6.97 12.5a0.53 0.68 0 1 0 1.06 0a0.53 0.68 0 1 0 -1.06 0M11.97 12.5a0.53 0.68 0 1 0 1.06 0a0.53 0.68 0 1 0 -1.06 0M12.97 12.5a0.53 0.68 0 1 0 1.06 0a0.53 0.68 0 1 0 -1.06 0M2.97 13.5a0.53 0.68 0 1 0 1.06 0a0.53 0.68 0 1 0 -1.06 0M5.97 14.5a0.53 0.68 0 1 0 1.06 0a0.53 0.68 0 1 0 -1.06 0M11.97 14.5a0.53 0.68 0 1 0 1.06 0a0.53 0.68 0 1 0 -1.06 0M14.97 14.5a0.53 0.68 0 1 0 1.06 0a0.53 0.68 0 1 0 -1.06 0M-0.03 15.5a0.53 0.68 0 1 0 1.06 0a0.53 0.68 0 1 0 -1.06 0M16.97 16.5a0.53 0.68 0 1 0 1.06 0a0.53 0.68 0 1 0 -1.06 0M15.97 17.5a0.53 0.68 0 1 0 1.06 0a0.53 0.68 0 1 0 -1.06 0M11.97 18.5a0.53 0.68 0 1 0 1.06 0a0.53 0.68 0 1 0 -1.06 0M15.97 18.5a0.53 0.68 0 1 0 1.06 0a0.53 0.68 0 1 0 -1.06 0M13.97 19.5a0.53 0.68 0 1 0 1.06 0a0.53 0.68 0 1 0 -1.06 0M14.97 19.5a0.53 0.68 0 1 0 1.06 0a0.53 0.68 0 1 0 -1.06 0M4.97 20.5a0.53 0.68 0 1 0 1.06 0a0.53 0.68 0 1 0 -1.06 0M12.97 21.5a0.53 0.68 0 1 0 1.06 0a0.53 0.68 0 1 0 -1.06 0M-0.03 22.5a0.53 0.68 0 1 0 1.06 0a0.53 0.68 0 1 0 -1.06 0M10.97 22.5a0.53 0.68 0 1 0 1.06 0a0.53 0.68 0 1 0 -1.06 0M11.97 22.5a0.53 0.68 0 1 0 1.06 0a0.53 0.68 0 1 0 -1.06 0M16.97 22.5a0.53 0.68 0 1 0 1.06 0a0.53 0.68 0 1 0 -1.06 0"/></symbol>
<symbol id="gc2" viewBox="0 0 23 19" preserveAspectRatio="none"><rect width="23" height="19" fill="#ffffff"/><g stroke-width="1.04" fill="none"><path stroke="#bbbbbb" d="M0 0.5h1M16 0.5h1M21 0.5h1M3 1.5h1M8 1.5h1M16 1.5h2M22 1.5h1M0 2.5h1M4 2.5h1M8 2.5h1M21 2.5h2M4 3.5h1M6 3.5h1M8 3.5h1M14 3.5h4M21 3.5h1M15 4.5h1M0 5.5h2M3 5.5h1M7 5.5h1M9 5.5h1M16 5.5h1M19 5.5h1M2 6.5h1M6 6.5h1M10 6.5h1M12 6.5h1M14 6.5h1M10 7.5h1M3 8.5h1M9 8.5h1M11 8.5h1M9 9.5h1M11 9.5h1M11 10.5h1M16 10.5h1M4 11.5h1M1 12.5h1M4 12.5h2M14 12.5h1M4 13.5h2M6 14.5h1M15 14.5h1M17 14.5h1M9 15.5h1M14 15.5h1M17 15.5h1M14 16.5h1M16 16.5h2M9 17.5h1M16 17.5h1"/><path stroke="#b0b0b0" d="M1 0.5h1M0 1.5h2M7 1.5h1M18 1.5h1M1 2.5h1M3 2.5h1M6 2.5h1M17 2.5h1M7 3.5h1M13 3.5h1M10 4.5h1M14 4.5h1M16 4.5h1M8 5.5h1M0 6.5h1M8 6.5h1M11 6.5h1M15 6.5h1M0 7.5h1M8 7.5h2M14 7.5h1M20 7.5h2M1 8.5h1M13 8.5h2M16 8.5h1M20 8.5h1M2 9.5h1M0 10.5h1M8 10.5h1M14 10.5h2M1 11.5h1M3 11.5h1M12 11.5h1M17 11.5h1M7 12.5h1M11 12.5h1M15 12.5h1M18 12.5h1M3 13.5h1M10 13.5h2M15 13.5h1M1 14.5h1M3 14.5h1M9 14.5h1M14 14.5h1M19 14.5h1M0 15.5h2M4 15.5h1M6 15.5h1M11 15.5h1M16 15.5h1M19 15.5h1M18 16.5h1M4 17.5h1M7 17.5h1M11 17.5h1M15 17.5h1M17 17.5h1M2 18.5h1M6 18.5h1M18 18.5h1"/><path stroke="#a8a8a8" d="M2 0.5h1M8 0.5h1M14 0.5h2M17 0.5h1M22 0.5h1M5 1.5h1M14 1.5h1M5 2.5h1M13 2.5h2M9 4.5h1M13 4.5h1M17 4.5h1M2 5.5h1M4 5.5h1M6 5.5h1M10 5.5h1M12 5.5h1M15 5.5h1M4 6.5h2M9 6.5h1M20 6.5h1M5 7.5h1M7 7.5h1M15 7.5h1M17 7.5h1M8 8.5h1M10 8.5h1M1 9.5h1M12 10.5h1M17 10.5h1M8 11.5h1M18 11.5h1M2 12.5h2M9 12.5h1M8 13.5h1M12 13.5h1M18 13.5h2M0 14.5h1M2 14.5h1M5 14.5h1M7 14.5h2M11 14.5h1M16 14.5h1M7 15.5h2M15 15.5h1M7 16.5h1M10 16.5h1M15 16.5h1M4 18.5h1"/><path stroke="#9f9f9f" d="M4 0.5h2M4 1.5h1M15 1.5h1M16 2.5h1M2 3.5h1M18 3.5h1M7 4.5h1M19 4.5h2M5 5.5h1M11 5.5h1M13 5.5h2M3 6.5h1M7 6.5h1M17 6.5h3M21 6.5h1M1 7.5h2M4 7.5h1M11 7.5h1M2 8.5h1M18 8.5h1M0 9.5h1M3 9.5h1M10 9.5h1M19 9.5h2M1 10.5h1M9 10.5h1M9 11.5h1M11 11.5h1M19 11.5h3M19 12.5h2M0 13.5h1M17 13.5h1M20 13.5h1M10 14.5h1M12 14.5h1M18 14.5h1M20 14.5h1M2 15.5h1M5 15.5h1M10 15.5h1M18 15.5h1M8 16.5h2M5 17.5h1M10 17.5h1M12 17.5h1M7 18.5h2M14 18.5h1"/></g><rect width="23" height="19" fill="url(#grid2)"/><path fill="#0c0c0c" d="M6.9 0.5a0.6 0.54 0 1 0 1.2 0a0.6 0.54 0 1 0 -1.2 0M-0.1 1.5a0.6 0.54 0 1 0 1.2 0a0.6 0.54 0 1 0 -1.2 0M13.9 1.5a0.6 0.54 0 1 0 1.2 0a0.6 0.54 0 1 0 -1.2 0M20.9 4.5a0.6 0.54 0 1 0 1.2 0a0.6 0.54 0 1 0 -1.2 0M16.9 5.5a0.6 0.54 0 1 0 1.2 0a0.6 0.54 0 1 0 -1.2 0M7.9 6.5a0.6 0.54 0 1 0 1.2 0a0.6 0.54 0 1 0 -1.2 0M9.9 7.5a0.6 0.54 0 1 0 1.2 0a0.6 0.54 0 1 0 -1.2 0M20.9 10.5a0.6 0.54 0 1 0 1.2 0a0.6 0.54 0 1 0 -1.2 0M18.9 11.5a0.6 0.54 0 1 0 1.2 0a0.6 0.54 0 1 0 -1.2 0M-0.1 12.5a0.6 0.54 0 1 0 1.2 0a0.6 0.54 0 1 0 -1.2 0M3.9 12.5a0.6 0.54 0 1 0 1.2 0a0.6 0.54 0 1 0 -1.2 0M7.9 12.5a0.6 0.54 0 1 0 1.2 0a0.6 0.54 0 1 0 -1.2 0M9.9 12.5a0.6 0.54 0 1 0 1.2 0a0.6 0.54 0 1 0 -1.2 0M11.9 12.5a0.6 0.54 0 1 0 1.2 0a0.6 0.54 0 1 0 -1.2 0M9.9 13.5a0.6 0.54 0 1 0 1.2 0a0.6 0.54 0 1 0 -1.2 0M13.9 13.5a0.6 0.54 0 1 0 1.2 0a0.6 0.54 0 1 0 -1.2 0M2.9 14.5a0.6 0.54 0 1 0 1.2 0a0.6 0.54 0 1 0 -1.2 0M2.9 15.5a0.6 0.54 0 1 0 1.2 0a0.6 0.54 0 1 0 -1.2 0M7.9 15.5a0.6 0.54 0 1 0 1.2 0a0.6 0.54 0 1 0 -1.2 0M11.9 15.5a0.6 0.54 0 1 0 1.2 0a0.6 0.54 0 1 0 -1.2 0M16.9 15.5a0.6 0.54 0 1 0 1.2 0a0.6 0.54 0 1 0 -1.2 0M-0.1 17.5a0.6 0.54 0 1 0 1.2 0a0.6 0.54 0 1 0 -1.2 0M5.9 17.5a0.6 0.54 0 1 0 1.2 0a0.6 0.54 0 1 0 -1.2 0M14.9 18.5a0.6 0.54 0 1 0 1.2 0a0.6 0.54 0 1 0 -1.2 0"/></symbol>
</defs>
<text x="11" y="42.2" text-anchor="start" fill="#111" font-weight="bold" font-size="17.3">A</text>
<text x="124" y="42.2" text-anchor="middle" fill="#111" font-weight="bold" font-size="17.3">Code</text>
<text x="230.3" y="42.2" text-anchor="start" fill="#c0242b" font-weight="bold" font-size="17.3">Encrypt</text>
<text x="376.4" y="42.2" text-anchor="start" fill="#111" font-weight="bold" font-size="17.3">Transmit</text>
<text x="638.6" y="42.2" text-anchor="middle" fill="#111" font-weight="bold" font-size="17.3">Decrypt</text>
<text x="777.3" y="42.2" text-anchor="middle" fill="#111" font-weight="bold" font-size="17.3">Decode</text>
<rect x="30.3" y="47.5" width="188.9" height="288.5" rx="6" fill="none" stroke="#3a3a3a" stroke-width="1.45"/>
<path d="M30.3 73.5H219.2" stroke="#3a3a3a" stroke-width="1.45"/>
<text x="128.7" y="67.6" text-anchor="middle" fill="#111">Sender</text>
<text x="79.7" y="91.5" text-anchor="middle" fill="#1d3c34">Dynamic</text>
<text x="79.7" y="112.8" text-anchor="middle" fill="#1d3c34">key: <tspan font-style="italic">K(t)</tspan></text>
<text x="165.7" y="104.5" text-anchor="middle" fill="#111">Plaintext</text>
<rect x="49" y="121.5" width="62.5" height="55" rx="8" fill="url(#gg)"/>
<g transform="translate(49 121.5)" filter="url(#b1)">
<ellipse cx="21.2" cy="27.2" rx="10.4" ry="11.6" fill="#f9bc0c"/>
<path d="M27 20.2L52.4 20.9Q55.8 21.3 55.9 24.2L55.9 29.4Q55.6 31.2 54 31.5l-1.5 -1.1l-1.8 1.4l-1.8 -1.4l-1.8 1.4l-1.8 -1.4l-1.8 1.4l-1.8 -1.4l-1.8 1.4l-1.7 -1.2L29 34Z" fill="#f9bc0c"/>
<circle cx="17.3" cy="27.2" r="2.7" fill="#c4a24a"/>
</g>
<svg x="131.5" y="121.5" width="62" height="54.5"><g clip-path="inset(0 round 8px)" filter="url(#b1)"><use href="#wm" width="62" height="54.5"/></g></svg>
<path d="M79 182V194" stroke="#7dc142" stroke-width="5" fill="none"/>
<path d="M71.5 193L79 206L86.5 193Z" fill="#7dc142"/>
<path d="M158.5 182V194" stroke="#7dc142" stroke-width="5" fill="none"/>
<path d="M151.0 193L158.5 206L166.0 193Z" fill="#7dc142"/>
<text x="120" y="197" text-anchor="middle" fill="#9fd174">Code</text>
<text x="82.8" y="218.8" text-anchor="middle" fill="#111">Parameter</text>
<text x="82.9" y="238.2" text-anchor="middle" fill="#111">list</text>
<text x="165" y="218.8" text-anchor="middle" fill="#111">Laser</text>
<text x="165" y="238.2" text-anchor="middle" fill="#111">source</text>
<rect x="51" y="245" width="62" height="55" rx="8" fill="url(#gg)"/>
<g transform="translate(51 245) scale(1.0 1.0)">
<rect x="14.7" y="9.3" width="31.4" height="37.8" rx="1.6" fill="none" stroke="#0d0d0d" stroke-width="3.5"/>
<path d="M22 13.2V7.6h4.6a3.8 3.8 0 0 1 7.4 0H38.6V13.2z" fill="#0d0d0d"/><circle cx="30.3" cy="7.3" r="1.3" fill="#b0b0b0"/>
<rect x="19.5" y="15.9" width="23.2" height="7.1" rx="1.3" fill="#0d0d0d"/>
<path d="M22.4 19.45h1.4m1.5 0h1.4m1.5 0h1.4" stroke="#a8a8a8" stroke-width="1.3"/>
<rect x="19.5" y="25.6" width="23.2" height="7.1" rx="1.3" fill="#0d0d0d"/>
<path d="M22.4 29.150000000000002h1.4m1.5 0h1.4m1.5 0h1.4" stroke="#a8a8a8" stroke-width="1.3"/>
<rect x="19.5" y="35.3" width="23.2" height="7.1" rx="1.3" fill="#0d0d0d"/>
<path d="M22.4 38.849999999999994h1.4m1.5 0h1.4m1.5 0h1.4" stroke="#a8a8a8" stroke-width="1.3"/>
</g>
<rect x="133.2" y="243.3" width="61.8" height="54.6" rx="7.5" fill="#030503"/>
<circle cx="163.6" cy="270.3" r="13" fill="url(#glow)"/>
<circle cx="163.6" cy="270.3" r="2.3" fill="#8dffa0" filter="url(#b2)"/>
<path d="M79.6 301.5V305Q79.6 318.8 93.4 318.8H312" stroke="#7dc142" stroke-width="5.1" fill="none"/>
<path d="M165.5 301.5V305Q165.5 318.8 179.3 318.8H190" stroke="#7dc142" stroke-width="5.1" fill="none"/>
<path d="M311 311.6L324.8 318.8L311 326Z" fill="#7dc142"/>
<rect x="230.6" y="193.3" width="195.9" height="143.1" rx="7" fill="none" stroke="#b5282d" stroke-width="1.5"/>
<path d="M230.6 237.5H426.5" stroke="#b5282d" stroke-width="1.5"/>
<text x="330" y="210" text-anchor="middle" fill="#1d3c34">Dynamic optical</text>
<text x="330" y="231.3" text-anchor="middle" fill="#1d3c34">encryption</text>
<text x="280" y="260.4" text-anchor="middle" fill="#222">Encrypt</text>
<text x="378" y="260.4" text-anchor="middle" fill="#1d3c34">Ciphertext</text>
<rect x="346" y="271.5" width="62.4" height="54" rx="7.5" fill="#030503"/>
<ellipse cx="377.09999999999997" cy="299.1" rx="25" ry="21" fill="url(#glow2)"/>
<g filter="url(#b3)" transform="rotate(-4 375.1 299.1)">
<circle cx="369.8" cy="277.9" r="1.8" fill="#5dff6e" fill-opacity="0.2"/>
<circle cx="375.1" cy="277.9" r="1.8" fill="#5dff6e" fill-opacity="0.23"/>
<circle cx="359.2" cy="283.2" r="1.8" fill="#5dff6e" fill-opacity="0.13"/>
<circle cx="364.5" cy="283.2" r="1.8" fill="#5dff6e" fill-opacity="0.2"/>
<circle cx="369.8" cy="283.2" r="1.8" fill="#5dff6e" fill-opacity="0.26"/>
<circle cx="375.1" cy="283.2" r="1.8" fill="#5dff6e" fill-opacity="0.5"/>
<circle cx="364.5" cy="288.5" r="1.8" fill="#5dff6e" fill-opacity="0.6"/>
<circle cx="369.8" cy="288.5" r="1.8" fill="#5dff6e" fill-opacity="0.6"/>
<circle cx="375.1" cy="288.5" r="1.8" fill="#5dff6e" fill-opacity="0.75"/>
<circle cx="380.4" cy="288.5" r="1.8" fill="#5dff6e" fill-opacity="0.16"/>
<circle cx="359.2" cy="293.8" r="1.8" fill="#5dff6e" fill-opacity="0.16"/>
<circle cx="364.5" cy="293.8" r="1.8" fill="#5dff6e" fill-opacity="0.29"/>
<circle cx="369.8" cy="293.8" r="2.2" fill="#5dff6e" fill-opacity="0.95"/>
<circle cx="375.1" cy="293.8" r="2.2" fill="#5dff6e" fill-opacity="0.95"/>
<circle cx="380.4" cy="293.8" r="1.8" fill="#5dff6e" fill-opacity="0.29"/>
<circle cx="353.9" cy="299.1" r="1.8" fill="#5dff6e" fill-opacity="0.23"/>
<circle cx="359.2" cy="299.1" r="1.8" fill="#5dff6e" fill-opacity="0.6"/>
<circle cx="364.5" cy="299.1" r="1.8" fill="#5dff6e" fill-opacity="0.75"/>
<circle cx="369.8" cy="299.1" r="2.2" fill="#5dff6e" fill-opacity="0.9"/>
<circle cx="375.1" cy="299.1" r="2.2" fill="#5dff6e" fill-opacity="1"/>
<circle cx="380.4" cy="299.1" r="2.2" fill="#5dff6e" fill-opacity="0.95"/>
<circle cx="385.7" cy="299.1" r="1.8" fill="#5dff6e" fill-opacity="0.8"/>
<circle cx="391.0" cy="299.1" r="1.8" fill="#5dff6e" fill-opacity="0.7"/>
<circle cx="396.3" cy="299.1" r="1.8" fill="#5dff6e" fill-opacity="0.5"/>
<circle cx="401.6" cy="299.1" r="1.8" fill="#5dff6e" fill-opacity="0.13"/>
<circle cx="369.8" cy="304.4" r="1.8" fill="#5dff6e" fill-opacity="0.29"/>
<circle cx="375.1" cy="304.4" r="2.2" fill="#5dff6e" fill-opacity="0.95"/>
<circle cx="380.4" cy="304.4" r="2.2" fill="#5dff6e" fill-opacity="0.95"/>
<circle cx="385.7" cy="304.4" r="1.8" fill="#5dff6e" fill-opacity="0.6"/>
<circle cx="391.0" cy="304.4" r="1.8" fill="#5dff6e" fill-opacity="0.5"/>
<circle cx="369.8" cy="309.7" r="1.8" fill="#5dff6e" fill-opacity="0.16"/>
<circle cx="375.1" cy="309.7" r="1.8" fill="#5dff6e" fill-opacity="0.7"/>
<circle cx="380.4" cy="309.7" r="1.8" fill="#5dff6e" fill-opacity="0.7"/>
<circle cx="385.7" cy="309.7" r="1.8" fill="#5dff6e" fill-opacity="0.6"/>
<circle cx="391.0" cy="309.7" r="1.8" fill="#5dff6e" fill-opacity="0.16"/>
<circle cx="375.1" cy="315.0" r="1.8" fill="#5dff6e" fill-opacity="0.5"/>
<circle cx="380.4" cy="315.0" r="1.8" fill="#5dff6e" fill-opacity="0.29"/>
<circle cx="385.7" cy="315.0" r="1.8" fill="#5dff6e" fill-opacity="0.16"/>
<circle cx="375.1" cy="320.3" r="1.8" fill="#5dff6e" fill-opacity="0.26"/>
<circle cx="380.4" cy="320.3" r="1.8" fill="#5dff6e" fill-opacity="0.13"/>
</g><g filter="url(#b2)" transform="rotate(-4 375.1 299.1)">
<circle cx="375.1" cy="288.5" r="1.3" fill="#b9ffc0" fill-opacity="0.6"/>
<circle cx="369.8" cy="293.8" r="1.3" fill="#b9ffc0" fill-opacity="0.76"/>
<circle cx="375.1" cy="293.8" r="1.3" fill="#b9ffc0" fill-opacity="0.76"/>
<circle cx="364.5" cy="299.1" r="1.3" fill="#b9ffc0" fill-opacity="0.6"/>
<circle cx="369.8" cy="299.1" r="1.3" fill="#b9ffc0" fill-opacity="0.72"/>
<circle cx="375.1" cy="299.1" r="1.3" fill="#b9ffc0" fill-opacity="0.8"/>
<circle cx="380.4" cy="299.1" r="1.3" fill="#b9ffc0" fill-opacity="0.76"/>
<circle cx="385.7" cy="299.1" r="1.3" fill="#b9ffc0" fill-opacity="0.64"/>
<circle cx="391.0" cy="299.1" r="1.3" fill="#b9ffc0" fill-opacity="0.56"/>
<circle cx="375.1" cy="304.4" r="1.3" fill="#b9ffc0" fill-opacity="0.76"/>
<circle cx="380.4" cy="304.4" r="1.3" fill="#b9ffc0" fill-opacity="0.76"/>
<circle cx="375.1" cy="309.7" r="1.3" fill="#b9ffc0" fill-opacity="0.56"/>
<circle cx="380.4" cy="309.7" r="1.3" fill="#b9ffc0" fill-opacity="0.56"/>
</g>
<g transform="translate(230 260)">
<path d="M52 38L86 12M52 38L88 20M52 38L90 28M52 38L89 36M52 38L86 44" stroke="#d9eed2" stroke-width="2.2" fill="none" opacity=".75" filter="url(#b2)"/>
<path d="M23.1 12.1L39.8 9.4L63.5 15L63.5 46.2L46.2 52.5L23.1 43.3Z" fill="#d3d7d6"/>
<path d="M23.1 12.1L39.8 9.4L63.5 15L52 17.3L38.7 15.6L38.7 22L29.4 22L29.4 13.5Z" fill="#c3c8c7"/>
<path d="M29.4 22H38.7V15.6L52 17.3V44.5L29.4 38Z" fill="#7e9490"/>
<path d="M38.7 15.6L52 17.3V44.5L38.7 40.7Z" fill="#6b837f"/>
<path d="M52 17.3L63.5 15V46.2L52 44.5Z" fill="#dde0df"/>
<path d="M23.1 43.3L29.4 38L52 44.5L63.5 46.2L46.2 52.5Z" fill="#bfc4c3"/>
<path d="M5.5 40L34.5 31.8" stroke="#7fe084" stroke-width="2.2" fill="none" stroke-linecap="round"/>
</g>
<path d="M349 192.5V155.4" stroke="#7dc142" stroke-width="5" fill="none"/>
<path d="M341.5 156.4L349 136.4L356.5 156.4Z" fill="#7dc142"/>
<rect x="299.6" y="47.7" width="243.7" height="125.3" rx="6" fill="none" stroke="#3a3a3a" stroke-width="1.45"/>
<path d="M299.6 73.2H543.3" stroke="#3a3a3a" stroke-width="1.45"/>
<text x="422.2" y="66" text-anchor="middle" fill="#111">Eavesdropper</text>
<rect x="319.7" y="78.2" width="62.3" height="54.6" rx="7.5" fill="#030503"/>
<ellipse cx="350.74999999999994" cy="106.1" rx="25" ry="21" fill="url(#glow2)"/>
<g filter="url(#b3)" transform="rotate(-4 348.7 106.1)">
<circle cx="343.4" cy="84.9" r="1.8" fill="#5dff6e" fill-opacity="0.2"/>
<circle cx="348.7" cy="84.9" r="1.8" fill="#5dff6e" fill-opacity="0.23"/>
<circle cx="332.8" cy="90.2" r="1.8" fill="#5dff6e" fill-opacity="0.13"/>
<circle cx="338.1" cy="90.2" r="1.8" fill="#5dff6e" fill-opacity="0.2"/>
<circle cx="343.4" cy="90.2" r="1.8" fill="#5dff6e" fill-opacity="0.26"/>
<circle cx="348.7" cy="90.2" r="1.8" fill="#5dff6e" fill-opacity="0.5"/>
<circle cx="338.1" cy="95.5" r="1.8" fill="#5dff6e" fill-opacity="0.6"/>
<circle cx="343.4" cy="95.5" r="1.8" fill="#5dff6e" fill-opacity="0.6"/>
<circle cx="348.7" cy="95.5" r="1.8" fill="#5dff6e" fill-opacity="0.75"/>
<circle cx="354.0" cy="95.5" r="1.8" fill="#5dff6e" fill-opacity="0.16"/>
<circle cx="332.8" cy="100.8" r="1.8" fill="#5dff6e" fill-opacity="0.16"/>
<circle cx="338.1" cy="100.8" r="1.8" fill="#5dff6e" fill-opacity="0.29"/>
<circle cx="343.4" cy="100.8" r="2.2" fill="#5dff6e" fill-opacity="0.95"/>
<circle cx="348.7" cy="100.8" r="2.2" fill="#5dff6e" fill-opacity="0.95"/>
<circle cx="354.0" cy="100.8" r="1.8" fill="#5dff6e" fill-opacity="0.29"/>
<circle cx="327.5" cy="106.1" r="1.8" fill="#5dff6e" fill-opacity="0.23"/>
<circle cx="332.8" cy="106.1" r="1.8" fill="#5dff6e" fill-opacity="0.6"/>
<circle cx="338.1" cy="106.1" r="1.8" fill="#5dff6e" fill-opacity="0.75"/>
<circle cx="343.4" cy="106.1" r="2.2" fill="#5dff6e" fill-opacity="0.9"/>
<circle cx="348.7" cy="106.1" r="2.2" fill="#5dff6e" fill-opacity="1"/>
<circle cx="354.0" cy="106.1" r="2.2" fill="#5dff6e" fill-opacity="0.95"/>
<circle cx="359.3" cy="106.1" r="1.8" fill="#5dff6e" fill-opacity="0.8"/>
<circle cx="364.6" cy="106.1" r="1.8" fill="#5dff6e" fill-opacity="0.7"/>
<circle cx="369.9" cy="106.1" r="1.8" fill="#5dff6e" fill-opacity="0.5"/>
<circle cx="375.2" cy="106.1" r="1.8" fill="#5dff6e" fill-opacity="0.13"/>
<circle cx="343.4" cy="111.4" r="1.8" fill="#5dff6e" fill-opacity="0.29"/>
<circle cx="348.7" cy="111.4" r="2.2" fill="#5dff6e" fill-opacity="0.95"/>
<circle cx="354.0" cy="111.4" r="2.2" fill="#5dff6e" fill-opacity="0.95"/>
<circle cx="359.3" cy="111.4" r="1.8" fill="#5dff6e" fill-opacity="0.6"/>
<circle cx="364.6" cy="111.4" r="1.8" fill="#5dff6e" fill-opacity="0.5"/>
<circle cx="343.4" cy="116.7" r="1.8" fill="#5dff6e" fill-opacity="0.16"/>
<circle cx="348.7" cy="116.7" r="1.8" fill="#5dff6e" fill-opacity="0.7"/>
<circle cx="354.0" cy="116.7" r="1.8" fill="#5dff6e" fill-opacity="0.7"/>
<circle cx="359.3" cy="116.7" r="1.8" fill="#5dff6e" fill-opacity="0.6"/>
<circle cx="364.6" cy="116.7" r="1.8" fill="#5dff6e" fill-opacity="0.16"/>
<circle cx="348.7" cy="122.0" r="1.8" fill="#5dff6e" fill-opacity="0.5"/>
<circle cx="354.0" cy="122.0" r="1.8" fill="#5dff6e" fill-opacity="0.29"/>
<circle cx="359.3" cy="122.0" r="1.8" fill="#5dff6e" fill-opacity="0.16"/>
<circle cx="348.7" cy="127.3" r="1.8" fill="#5dff6e" fill-opacity="0.26"/>
<circle cx="354.0" cy="127.3" r="1.8" fill="#5dff6e" fill-opacity="0.13"/>
</g><g filter="url(#b2)" transform="rotate(-4 348.7 106.1)">
<circle cx="348.7" cy="95.5" r="1.3" fill="#b9ffc0" fill-opacity="0.6"/>
<circle cx="343.4" cy="100.8" r="1.3" fill="#b9ffc0" fill-opacity="0.76"/>
<circle cx="348.7" cy="100.8" r="1.3" fill="#b9ffc0" fill-opacity="0.76"/>
<circle cx="338.1" cy="106.1" r="1.3" fill="#b9ffc0" fill-opacity="0.6"/>
<circle cx="343.4" cy="106.1" r="1.3" fill="#b9ffc0" fill-opacity="0.72"/>
<circle cx="348.7" cy="106.1" r="1.3" fill="#b9ffc0" fill-opacity="0.8"/>
<circle cx="354.0" cy="106.1" r="1.3" fill="#b9ffc0" fill-opacity="0.76"/>
<circle cx="359.3" cy="106.1" r="1.3" fill="#b9ffc0" fill-opacity="0.64"/>
<circle cx="364.6" cy="106.1" r="1.3" fill="#b9ffc0" fill-opacity="0.56"/>
<circle cx="348.7" cy="111.4" r="1.3" fill="#b9ffc0" fill-opacity="0.76"/>
<circle cx="354.0" cy="111.4" r="1.3" fill="#b9ffc0" fill-opacity="0.76"/>
<circle cx="348.7" cy="116.7" r="1.3" fill="#b9ffc0" fill-opacity="0.56"/>
<circle cx="354.0" cy="116.7" r="1.3" fill="#b9ffc0" fill-opacity="0.56"/>
</g>
<path d="M389 104.5H447.1" stroke="#7dc142" stroke-width="5" fill="none"/>
<path d="M446.1 97.0L459.6 104.5L446.1 112.0Z" fill="#7dc142"/>
<text x="424.7" y="132.2" text-anchor="middle" fill="#111">Without</text>
<text x="424.6" y="153" text-anchor="middle" fill="#111">dynamic key</text>
<rect x="469" y="78.5" width="62.4" height="55" rx="7" fill="url(#gg)"/>
<text x="500.2" y="124.6" text-anchor="middle" fill="#dc1414" font-size="52" stroke="#dc1414" stroke-width=".15">?</text>
<path d="M497 137.6V254.5Q497 264.6 507 264.6H539" stroke="#7dc142" stroke-width="5.2" fill="none"/>
<path d="M538 257.2L551.8 264.6L538 272Z" fill="#7dc142"/>
<text x="494" y="298.6" text-anchor="middle" fill="#222">Compromise</text>
<text x="494.2" y="317.8" text-anchor="middle" fill="#222">data integrity</text>
<rect x="550.8" y="48.2" width="291.8" height="287.8" rx="6" fill="none" stroke="#3a3a3a" stroke-width="1.45"/>
<path d="M550.8 73.7H842.6" stroke="#3a3a3a" stroke-width="1.45"/>
<text x="710.5" y="66" text-anchor="middle" fill="#111">Receiver</text>
<text x="675.3" y="97.8" text-anchor="middle" fill="#1d3c34" font-style="italic">K(t)</text>
<text x="772.5" y="97.6" text-anchor="middle" fill="#111">Plaintext</text>
<rect x="644" y="103.7" width="62.4" height="55" rx="8" fill="url(#gg)"/>
<g transform="translate(644 103.7)" filter="url(#b1)">
<ellipse cx="21.2" cy="27.2" rx="10.4" ry="11.6" fill="#f9bc0c"/>
<path d="M27 20.2L52.4 20.9Q55.8 21.3 55.9 24.2L55.9 29.4Q55.6 31.2 54 31.5l-1.5 -1.1l-1.8 1.4l-1.8 -1.4l-1.8 1.4l-1.8 -1.4l-1.8 1.4l-1.8 -1.4l-1.8 1.4l-1.7 -1.2L29 34Z" fill="#f9bc0c"/>
<circle cx="17.3" cy="27.2" r="2.7" fill="#c4a24a"/>
</g>
<svg x="737.4" y="103.7" width="62.5" height="55"><g clip-path="inset(0 round 8px)" filter="url(#b1)"><use href="#wm" width="62.5" height="55"/></g></svg>
<path d="M674.5 162V187.5" stroke="#7dc142" stroke-width="5" fill="none"/>
<path d="M667.0 186.5L674.5 199.5L682.0 186.5Z" fill="#7dc142"/>
<text x="706.3" y="186" text-anchor="middle" fill="#9fd174">Code</text>
<path d="M768 220V177.4" stroke="#7dc142" stroke-width="5" fill="none"/>
<path d="M760.5 178.4L768 161.4L775.5 178.4Z" fill="#7dc142"/>
<text x="808.4" y="175" text-anchor="middle" fill="#9fd174">Decode</text>
<text x="808" y="196.3" text-anchor="middle" fill="#9fd174">and</text>
<text x="808.2" y="217.6" text-anchor="middle" fill="#9fd174">verify</text>
<text x="557.4" y="206.3" text-anchor="start" fill="#1d3c34">Corrupter</text>
<text x="557" y="226.6" text-anchor="start" fill="#1d3c34">ciphertext</text>
<rect x="646" y="202.5" width="59.5" height="56" rx="8" fill="url(#gg)"/>
<g transform="translate(646 202.5) scale(0.96 1.018)">
<rect x="14.7" y="9.3" width="31.4" height="37.8" rx="1.6" fill="none" stroke="#0d0d0d" stroke-width="3.5"/>
<path d="M22 13.2V7.6h4.6a3.8 3.8 0 0 1 7.4 0H38.6V13.2z" fill="#0d0d0d"/><circle cx="30.3" cy="7.3" r="1.3" fill="#b0b0b0"/>
<rect x="19.5" y="15.9" width="23.2" height="7.1" rx="1.3" fill="#0d0d0d"/>
<path d="M22.4 19.45h1.4m1.5 0h1.4m1.5 0h1.4" stroke="#a8a8a8" stroke-width="1.3"/>
<rect x="19.5" y="25.6" width="23.2" height="7.1" rx="1.3" fill="#0d0d0d"/>
<path d="M22.4 29.150000000000002h1.4m1.5 0h1.4m1.5 0h1.4" stroke="#a8a8a8" stroke-width="1.3"/>
<rect x="19.5" y="35.3" width="23.2" height="7.1" rx="1.3" fill="#0d0d0d"/>
<path d="M22.4 38.849999999999994h1.4m1.5 0h1.4m1.5 0h1.4" stroke="#a8a8a8" stroke-width="1.3"/>
</g>
<text x="776.8" y="232.7" text-anchor="middle" fill="#111">Laser source</text>
<rect x="563.3" y="237.6" width="62.4" height="54" rx="7.5" fill="#030503"/>
<ellipse cx="596.0" cy="265.1" rx="16" ry="16" fill="url(#glow3)"/>
<g filter="url(#b2)">
<circle cx="599.0" cy="265.1" r="2" fill="#5dff6e" fill-opacity="1"/>
<circle cx="601.5" cy="266.1" r="1.6" fill="#5dff6e" fill-opacity="0.8"/>
<circle cx="588.0" cy="264.6" r="1.6" fill="#5dff6e" fill-opacity="0.7"/>
<circle cx="598.5" cy="254.1" r="1.5" fill="#5dff6e" fill-opacity="0.6"/>
<circle cx="598.5" cy="250.1" r="1.4" fill="#5dff6e" fill-opacity="0.4"/>
<circle cx="588.5" cy="254.1" r="1.5" fill="#5dff6e" fill-opacity="0.45"/>
<circle cx="598.0" cy="279.1" r="1.6" fill="#5dff6e" fill-opacity="0.45"/>
<circle cx="601.0" cy="278.1" r="1.4" fill="#5dff6e" fill-opacity="0.35"/>
<circle cx="598.5" cy="259.6" r="1.3" fill="#5dff6e" fill-opacity="0.35"/>
<circle cx="593.0" cy="265.1" r="1.3" fill="#5dff6e" fill-opacity="0.3"/>
<circle cx="598.5" cy="271.1" r="1.3" fill="#5dff6e" fill-opacity="0.3"/>
<circle cx="605.0" cy="265.6" r="1.3" fill="#5dff6e" fill-opacity="0.35"/>
<circle cx="582.0" cy="265.1" r="1.2" fill="#5dff6e" fill-opacity="0.15"/>
<circle cx="612.0" cy="265.1" r="1.2" fill="#5dff6e" fill-opacity="0.15"/>
</g>
<rect x="746.6" y="236.6" width="62.4" height="54" rx="7.5" fill="#030503"/>
<circle cx="777.3000000000001" cy="263.3" r="13" fill="url(#glow)"/>
<circle cx="777.3000000000001" cy="263.3" r="2.3" fill="#8dffa0" filter="url(#b2)"/>
<path d="M631 272.8H720.6" stroke="#7dc142" stroke-width="5" fill="none"/>
<path d="M719.6 265.3L733.6 272.8L719.6 280.3Z" fill="#7dc142"/>
<path d="M595 296.4V307Q595 318 606 318H691" stroke="#7dc142" stroke-width="5.2" fill="none"/>
<path d="M690 310.6L703.8 318L690 325.4Z" fill="#7dc142"/>
<text x="653" y="310.6" text-anchor="middle" fill="#111">Plaintext</text>
<text x="769.7" y="310.8" text-anchor="middle" fill="#1d3c34">Invalid transient</text>
<text x="769.3" y="331" text-anchor="middle" fill="#1d3c34">key</text>
<text x="11.4" y="384.6" text-anchor="start" fill="#111" font-weight="bold" font-size="17.3">B</text>
<rect x="30.8" y="395.3" width="121.0" height="411.0" rx="5" fill="none" stroke="#3a3a3a" stroke-width="1.5"/>
<path d="M30.8 438.7H151.8" stroke="#3a3a3a" stroke-width="1.5"/>
<text x="92" y="419.4" text-anchor="middle" fill="#111">Sender</text>
<text x="91.5" y="460" text-anchor="middle" fill="#222" font-style="italic">t<tspan font-size="10" dy="3.5">1</tspan></text>
<text x="92" y="485.6" text-anchor="middle" fill="#1d3c34">Plaintext 1</text>
<svg x="58" y="490.5" width="63" height="55.5"><g clip-path="inset(0 round 8px)" filter="url(#b1)"><use href="#wm" width="63" height="55.5"/></g></svg>
<text x="93" y="564" text-anchor="middle" fill="#1d3c34">Transient key:</text>
<text x="92.8" y="585.8" text-anchor="middle" fill="#1d3c34" font-style="italic">K(t<tspan font-size="10" dy="3.5">1</tspan><tspan dy="-3.5">)</tspan></text>
<text x="91" y="647" text-anchor="middle" fill="#222" font-style="italic">t<tspan font-size="10" dy="3.5">2</tspan></text>
<text x="91.5" y="670.5" text-anchor="middle" fill="#1d3c34">Plaintext 2</text>
<g>
<rect x="56.9" y="676.4" width="62" height="55" rx="8" fill="url(#gg)"/>
</g>
<text x="90.6" y="748.5" text-anchor="middle" fill="#1d3c34">Transient key:</text>
<text x="90.6" y="768.8" text-anchor="middle" fill="#1d3c34" font-style="italic">K(t<tspan font-size="10" dy="3.5">2</tspan><tspan dy="-3.5">)</tspan></text>
<path d="M154.8 604.4H177.4" stroke="#7dc142" stroke-width="5.2" fill="none"/>
<path d="M176.4 597.15L190.4 604.4L176.4 611.65Z" fill="#7dc142"/>
<path d="M252 604.4H277.6" stroke="#7dc142" stroke-width="5.2" fill="none"/>
<path d="M276.6 597.15L290.6 604.4L276.6 611.65Z" fill="#7dc142"/>
<text x="219.2" y="541.8" text-anchor="middle" fill="#111">Ciphertext</text>
<use href="#ci" x="190.8" y="546.8" width="59.4" height="54" filter="url(#b1)"/>
<use href="#gc" x="190.8" y="608.4" width="59.4" height="55.6" filter="url(#b1)"/>
<text x="357.6" y="432.4" text-anchor="middle" fill="#222">Receiver</text>
<text x="358" y="492" text-anchor="middle" fill="#222">intercepted</text>
<text x="337" y="575.5" text-anchor="middle" fill="#222">Eavesdropper 1</text>
<text x="336.3" y="631.5" text-anchor="middle" fill="#222">Eavesdropper 2</text>
<text x="336" y="651.8" text-anchor="middle" fill="#222">(have <tspan font-style="italic">K(t<tspan font-size="10" dy="3.5">1</tspan><tspan dy="-3.5">)</tspan></tspan> at <tspan font-style="italic">t<tspan font-size="10" dy="3.5">2</tspan></tspan><tspan dy="-3.5">)</tspan></text>
<text x="357" y="701.7" text-anchor="middle" fill="#222">Partially</text>
<text x="357" y="720.4" text-anchor="middle" fill="#222">tampered</text>
<text x="358.2" y="776.5" text-anchor="middle" fill="#222">Completely</text>
<text x="357.8" y="795" text-anchor="middle" fill="#222">tampered</text>
<text x="515" y="389.4" text-anchor="middle" fill="#222" font-style="italic">t<tspan font-size="10" dy="3.5">1</tspan></text>
<text x="733.5" y="386.6" text-anchor="middle" fill="#222" font-style="italic">t<tspan font-size="10" dy="3.5">2</tspan></text>
<rect x="411.9" y="395.75" width="205.6" height="61.35" rx="4.5" fill="none" stroke="#484848" stroke-width="1.65"/>
<use href="#ci" x="416.4" y="399.4" width="59" height="54" filter="url(#b1)"/>
<text x="513" y="419.6" text-anchor="middle" fill="#111">With</text>
<path d="M479 429.7H534" stroke="#7dc142" stroke-width="5.2" fill="none"/>
<path d="M533 422.2L547 429.7L533 437.2Z" fill="#7dc142"/>
<text x="513" y="451.8" text-anchor="middle" fill="#1d3c34" font-style="italic">K(t<tspan font-size="10" dy="3.5">1</tspan><tspan dy="-3.5">)</tspan></text>
<use href="#wm" x="555.5" y="399.7" width="57.6" height="53.6" filter="url(#b1)"/>
<rect x="411.9" y="465.55" width="205.6" height="61.05" rx="4.5" fill="none" stroke="#484848" stroke-width="1.65"/>
<use href="#ci2" x="416.4" y="469.2" width="59" height="54" filter="url(#b1)"/>
<text x="513" y="489.4" text-anchor="middle" fill="#111">With</text>
<path d="M479 499.5H534" stroke="#7dc142" stroke-width="5.2" fill="none"/>
<path d="M533 492.0L547 499.5L533 507.0Z" fill="#7dc142"/>
<text x="513" y="521.6" text-anchor="middle" fill="#1d3c34" font-style="italic">K(t<tspan font-size="10" dy="3.5">1</tspan><tspan dy="-3.5">)</tspan></text>
<use href="#wm" x="555.5" y="469.5" width="57.6" height="53.6" filter="url(#b1)"/>
<rect x="411.9" y="534.75" width="205.6" height="60.55" rx="4.5" fill="none" stroke="#484848" stroke-width="1.65"/>
<use href="#ci" x="416.4" y="538.4" width="59" height="54" filter="url(#b1)"/>
<text x="513" y="558.6" text-anchor="middle" fill="#111">Without</text>
<path d="M479 568.7H534" stroke="#7dc142" stroke-width="5.2" fill="none"/>
<path d="M533 561.2L547 568.7L533 576.2Z" fill="#7dc142"/>
<text x="513" y="590.8" text-anchor="middle" fill="#1d3c34" font-style="italic">K(t<tspan font-size="10" dy="3.5">1</tspan><tspan dy="-3.5">)</tspan></text>
<rect x="556" y="538.6" width="58" height="53.4" rx="2.5" fill="url(#gg)"/>
<text x="585.0" y="582.8" text-anchor="middle" fill="#dc1414" font-size="49" stroke="#dc1414" stroke-width=".15">?</text>
<rect x="411.9" y="604.05" width="205.6" height="60.35" rx="4.5" fill="none" stroke="#484848" stroke-width="1.65"/>
<use href="#ci" x="416.4" y="607.7" width="59" height="54" filter="url(#b1)"/>
<text x="513" y="627.9" text-anchor="middle" fill="#111">Without</text>
<path d="M479 638.0H534" stroke="#7dc142" stroke-width="5.2" fill="none"/>
<path d="M533 630.5L547 638.0L533 645.5Z" fill="#7dc142"/>
<text x="513" y="660.1" text-anchor="middle" fill="#1d3c34" font-style="italic">K(t<tspan font-size="10" dy="3.5">1</tspan><tspan dy="-3.5">)</tspan></text>
<rect x="556" y="607.9" width="58" height="53.4" rx="2.5" fill="url(#gg)"/>
<text x="585.0" y="652.1" text-anchor="middle" fill="#dc1414" font-size="49" stroke="#dc1414" stroke-width=".15">?</text>
<rect x="411.9" y="675.15" width="205.6" height="60.25" rx="4.5" fill="none" stroke="#484848" stroke-width="1.65"/>
<use href="#ci3" x="416.4" y="678.8" width="59" height="54" filter="url(#b1)"/>
<text x="513" y="699.0" text-anchor="middle" fill="#111">With</text>
<path d="M479 709.1H534" stroke="#7dc142" stroke-width="5.2" fill="none"/>
<path d="M533 701.6L547 709.1L533 716.6Z" fill="#7dc142"/>
<text x="513" y="731.2" text-anchor="middle" fill="#1d3c34" font-style="italic">K(t<tspan font-size="10" dy="3.5">1</tspan><tspan dy="-3.5">)</tspan></text>
<use href="#wmt" x="555.5" y="679.1" width="58.6" height="54" filter="url(#b1)"/>
<rect x="411.9" y="744.95" width="205.6" height="60.55" rx="4.5" fill="none" stroke="#484848" stroke-width="1.65"/>
<use href="#ci4" x="416.4" y="748.6" width="59" height="54" filter="url(#b1)"/>
<text x="513" y="768.8" text-anchor="middle" fill="#111">With</text>
<path d="M479 778.9H534" stroke="#7dc142" stroke-width="5.2" fill="none"/>
<path d="M533 771.4L547 778.9L533 786.4Z" fill="#7dc142"/>
<text x="513" y="801.0" text-anchor="middle" fill="#1d3c34" font-style="italic">K(t<tspan font-size="10" dy="3.5">1</tspan><tspan dy="-3.5">)</tspan></text>
<use href="#ms" x="555.5" y="748.9" width="57.6" height="53.6" filter="url(#b1)"/>
<rect x="631.7" y="395.75" width="211.6" height="61.35" rx="4.5" fill="none" stroke="#484848" stroke-width="1.65"/>
<use href="#gc" x="637" y="399" width="58.2" height="54" filter="url(#b1)"/>
<text x="735" y="416.6" text-anchor="middle" fill="#111">With</text>
<path d="M703 426.5H759.3" stroke="#7dc142" stroke-width="5.2" fill="none"/>
<path d="M758.3 419.0L772.3 426.5L758.3 434.0Z" fill="#7dc142"/>
<text x="735" y="448.6" text-anchor="middle" fill="#1d3c34" font-style="italic">K(t<tspan font-size="10" dy="3.5">2</tspan><tspan dy="-3.5">)</tspan></text>
<rect x="777.8" y="399.3" width="61" height="54" rx="3.5" fill="url(#gg)"/>
<g transform="translate(777.8 399.3)">
<rect x="3.2" y="3" width="6.5" height="6" rx="1" fill="#f2f2f2"/><circle cx="5.6" cy="7.5" r="1" fill="#111"/><circle cx="8" cy="7.7" r=".6" fill="#444"/>
<path d="M40.2 7.1L42 10.4C43.6 11.4 44.8 12.8 45.4 14.2L46 15.8C45.8 17 45.4 17.8 44.6 18.2C43.8 19.2 42.8 19.8 41.8 20C41 20.8 40.5 21.5 40.3 22.3C39.7 23.2 39.4 24 39.4 25.1C39.6 27.5 40.2 30 40.4 32.5L40.4 46.8H37.7L37.3 40.2L36 46.8H33.2L33 44.6C32.5 45.6 32 46.2 31.4 46.7L24 46.7C22.6 45.8 21.8 44.8 21.4 43.6C20.4 42 20 40.5 20 39C19.8 37 20 35 20.6 33.2C21.2 31.2 22.2 29.4 23.3 27.7C24.4 25.8 25.6 23.8 27 22.1C28.4 20.6 29.6 19.1 30.5 17.5C30.8 15.8 31.4 14.2 32.4 13C33.4 11.6 35 10.8 36.6 10.2C37.8 9.2 39 8.2 40.2 7.1Z" fill="#080808"/>
<path d="M23.6 45.4C19 42 16.2 36.4 15.5 30.7C15.1 26 16.6 22.6 18.4 19.8C19 18.9 19.5 18.3 19.6 17.6" fill="none" stroke="#080808" stroke-width="3.2" stroke-linecap="round"/>
<path d="M29.1 30.4C31.6 31.2 33.1 33.4 33 36.2L32.4 43.4" fill="none" stroke="#d0d0d0" stroke-width="1.1"/>
</g>
<rect x="631.7" y="465.55" width="211.6" height="61.05" rx="4.5" fill="none" stroke="#484848" stroke-width="1.65"/>
<use href="#gc2" x="637" y="468.8" width="58.2" height="54" filter="url(#b1)"/>
<text x="735" y="486.4" text-anchor="middle" fill="#111">With</text>
<path d="M703 496.3H759.3" stroke="#7dc142" stroke-width="5.2" fill="none"/>
<path d="M758.3 488.8L772.3 496.3L758.3 503.8Z" fill="#7dc142"/>
<text x="735" y="518.4" text-anchor="middle" fill="#1d3c34" font-style="italic">K(t<tspan font-size="10" dy="3.5">2</tspan><tspan dy="-3.5">)</tspan></text>
<rect x="777.8" y="469.1" width="61" height="54" rx="3.5" fill="url(#gg)"/>
<g transform="translate(777.8 469.1)">
<rect x="3.2" y="3" width="6.5" height="6" rx="1" fill="#f2f2f2"/><circle cx="5.6" cy="7.5" r="1" fill="#111"/><circle cx="8" cy="7.7" r=".6" fill="#444"/>
<path d="M40.2 7.1L42 10.4C43.6 11.4 44.8 12.8 45.4 14.2L46 15.8C45.8 17 45.4 17.8 44.6 18.2C43.8 19.2 42.8 19.8 41.8 20C41 20.8 40.5 21.5 40.3 22.3C39.7 23.2 39.4 24 39.4 25.1C39.6 27.5 40.2 30 40.4 32.5L40.4 46.8H37.7L37.3 40.2L36 46.8H33.2L33 44.6C32.5 45.6 32 46.2 31.4 46.7L24 46.7C22.6 45.8 21.8 44.8 21.4 43.6C20.4 42 20 40.5 20 39C19.8 37 20 35 20.6 33.2C21.2 31.2 22.2 29.4 23.3 27.7C24.4 25.8 25.6 23.8 27 22.1C28.4 20.6 29.6 19.1 30.5 17.5C30.8 15.8 31.4 14.2 32.4 13C33.4 11.6 35 10.8 36.6 10.2C37.8 9.2 39 8.2 40.2 7.1Z" fill="#080808"/>
<path d="M23.6 45.4C19 42 16.2 36.4 15.5 30.7C15.1 26 16.6 22.6 18.4 19.8C19 18.9 19.5 18.3 19.6 17.6" fill="none" stroke="#080808" stroke-width="3.2" stroke-linecap="round"/>
<path d="M29.1 30.4C31.6 31.2 33.1 33.4 33 36.2L32.4 43.4" fill="none" stroke="#d0d0d0" stroke-width="1.1"/>
</g>
<rect x="631.7" y="534.15" width="211.6" height="60.55" rx="4.5" fill="none" stroke="#484848" stroke-width="1.65"/>
<use href="#gc" x="637" y="537.4" width="58.2" height="54" filter="url(#b1)"/>
<text x="735" y="555.0" text-anchor="middle" fill="#111">Without</text>
<path d="M703 564.9H759.3" stroke="#7dc142" stroke-width="5.2" fill="none"/>
<path d="M758.3 557.4L772.3 564.9L758.3 572.4Z" fill="#7dc142"/>
<text x="735" y="587.0" text-anchor="middle" fill="#1d3c34" font-style="italic">K(t<tspan font-size="10" dy="3.5">2</tspan><tspan dy="-3.5">)</tspan></text>
<rect x="777.8" y="538.0" width="61" height="54" rx="3.5" fill="url(#gg)"/>
<text x="808.3" y="582.5" text-anchor="middle" fill="#dc1414" font-size="49" stroke="#dc1414" stroke-width=".15">?</text>
<rect x="631.7" y="604.75" width="211.6" height="60.15" rx="4.5" fill="none" stroke="#484848" stroke-width="1.65"/>
<use href="#gc" x="637" y="608" width="58.2" height="54" filter="url(#b1)"/>
<text x="735" y="625.6" text-anchor="middle" fill="#111">With</text>
<path d="M703 635.5H759.3" stroke="#7dc142" stroke-width="5.2" fill="none"/>
<path d="M758.3 628.0L772.3 635.5L758.3 643.0Z" fill="#7dc142"/>
<text x="735" y="657.6" text-anchor="middle" fill="#1d3c34" font-style="italic">K(t<tspan font-size="10" dy="3.5">1</tspan><tspan dy="-3.5">)</tspan></text>
<rect x="777" y="608.6" width="61.8" height="53.6" rx="3.5" fill="url(#gg)"/>
<g transform="translate(777.6 609.2) scale(.915 .925)">
<path d="M30 44L41.5 43.5L41.8 47.6L34.5 51L27.5 50Z" fill="#e9832d"/>
<path d="M50 12.2L57 13.4L50.4 15.8Z" fill="#e9832d"/>
<path d="M11.3 25C12.8 22.8 16.5 23.4 19.6 25.8L36.6 25.8C37.8 25.8 38.2 25 38.2 23.8L38.6 14C38.8 9.4 42.4 7.4 45.8 7.8C50 8.4 52 12.8 50 16.2C48.6 18.2 46.6 18.4 46.2 20.4L45.8 30C45.2 38.2 40.2 44.6 32.2 44.6C22.4 44.6 16.4 38.4 14.2 32.2C12 30 10.4 27.4 11.3 25Z" fill="#fff"/>
<path d="M33.5 44.5l1.2 3.2l1.6-3.2z" fill="#fff"/>
</g>
<g transform="translate(57.7 678.4)">
<rect x="3.2" y="3" width="6.5" height="6" rx="1" fill="#f2f2f2"/><circle cx="5.6" cy="7.5" r="1" fill="#111"/><circle cx="8" cy="7.7" r=".6" fill="#444"/>
<path d="M40.2 7.1L42 10.4C43.6 11.4 44.8 12.8 45.4 14.2L46 15.8C45.8 17 45.4 17.8 44.6 18.2C43.8 19.2 42.8 19.8 41.8 20C41 20.8 40.5 21.5 40.3 22.3C39.7 23.2 39.4 24 39.4 25.1C39.6 27.5 40.2 30 40.4 32.5L40.4 46.8H37.7L37.3 40.2L36 46.8H33.2L33 44.6C32.5 45.6 32 46.2 31.4 46.7L24 46.7C22.6 45.8 21.8 44.8 21.4 43.6C20.4 42 20 40.5 20 39C19.8 37 20 35 20.6 33.2C21.2 31.2 22.2 29.4 23.3 27.7C24.4 25.8 25.6 23.8 27 22.1C28.4 20.6 29.6 19.1 30.5 17.5C30.8 15.8 31.4 14.2 32.4 13C33.4 11.6 35 10.8 36.6 10.2C37.8 9.2 39 8.2 40.2 7.1Z" fill="#080808"/>
<path d="M23.6 45.4C19 42 16.2 36.4 15.5 30.7C15.1 26 16.6 22.6 18.4 19.8C19 18.9 19.5 18.3 19.6 17.6" fill="none" stroke="#080808" stroke-width="3.2" stroke-linecap="round"/>
<path d="M29.1 30.4C31.6 31.2 33.1 33.4 33 36.2L32.4 43.4" fill="none" stroke="#d0d0d0" stroke-width="1.1"/>
</g>
<circle cx="554.6" cy="683.8" r="10.7" fill="none" stroke="#111" stroke-width="2.3"/>
<path d="M565.8 684.2L690 686.4" stroke="#111" stroke-width="1.9"/>
<path d="M689 681L700 686.7L689 692Z" fill="#111"/>
<path d="M615 707.6H633" stroke="#111" stroke-width="1.9"/>
<path d="M632 702.2L643 707.6L632 713Z" fill="#111"/>
<circle cx="652.2" cy="696" r="9.4" fill="#a2a2a2"/>
<circle cx="670.6" cy="695.8" r="9.4" fill="#f0696c"/>
<circle cx="652.2" cy="715.2" r="9.4" fill="#56b358"/>
<circle cx="670.6" cy="715.2" r="9.4" fill="#fbbf1a"/>
<circle cx="709" cy="696" r="9.4" fill="#a2a2a2"/>
<circle cx="726.6" cy="696" r="9.4" fill="#f0696c"/>
<circle cx="709" cy="716" r="9.4" fill="#0a0a0a"/>
<circle cx="726.6" cy="716" r="9.4" fill="#56b358"/>
<text x="689.3" y="716.5" text-anchor="middle" fill="#c4262c" font-size="31">≠</text>
<text x="793" y="707" text-anchor="middle" fill="#1d3c34">Authentication</text>
<text x="793" y="727.5" text-anchor="middle" fill="#1d3c34">failed</text>
<text x="633" y="781.3" text-anchor="start" fill="#1d3c34">Messy code</text>
</svg>
</body></html>
